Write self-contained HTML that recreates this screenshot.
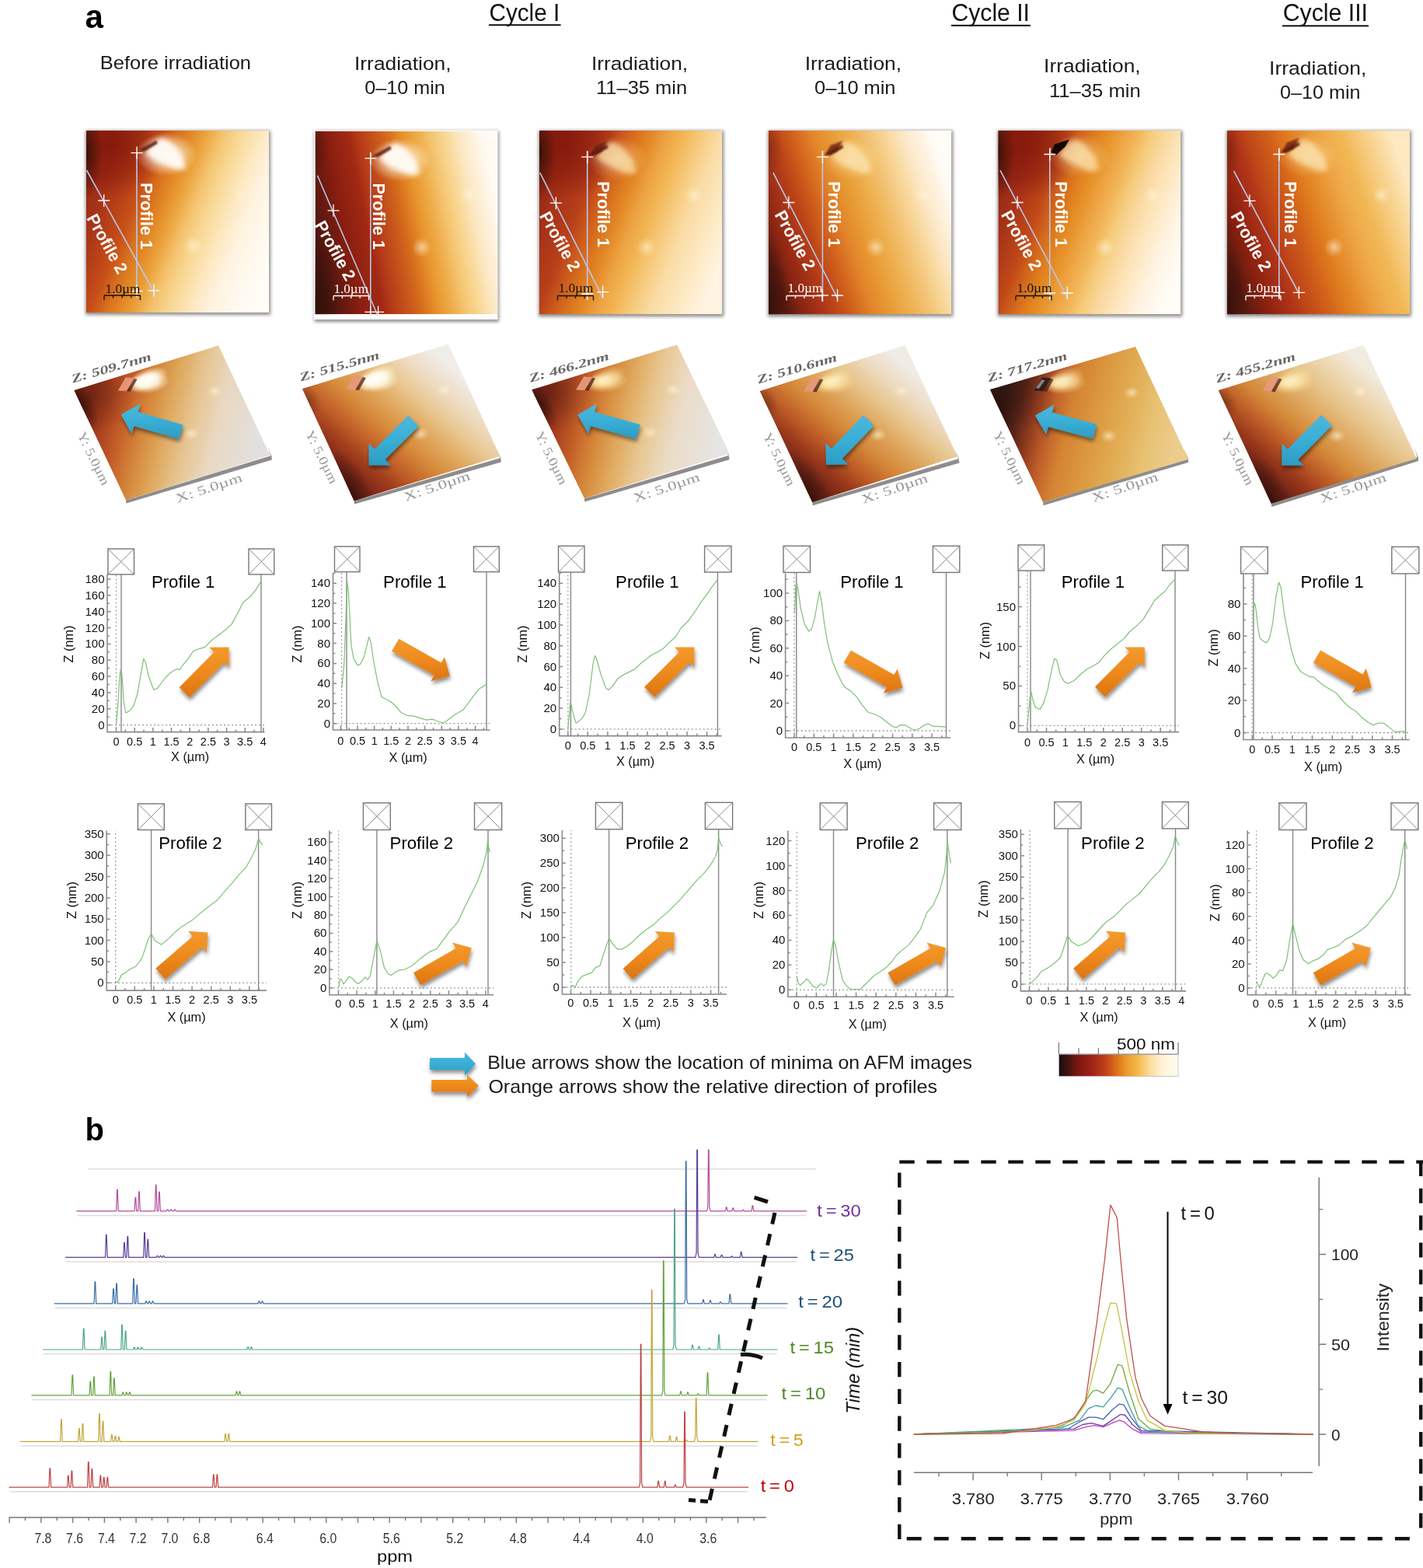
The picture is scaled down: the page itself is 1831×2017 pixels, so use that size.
<!DOCTYPE html>
<html><head><meta charset="utf-8"><title>AFM and NMR figure</title>
<style>html,body{margin:0;padding:0;background:#fff;} svg{display:block;}</style></head>
<body><svg width="1831" height="2017" viewBox="0 0 1831 2017">
<defs><filter id="shadow" x="-10%" y="-10%" width="120%" height="120%">
<feGaussianBlur stdDeviation="2.2"/></filter>
<filter id="blur1" x="-50%" y="-50%" width="200%" height="200%"><feGaussianBlur stdDeviation="1.2"/></filter>
<filter id="blur3" x="-50%" y="-50%" width="200%" height="200%"><feGaussianBlur stdDeviation="3"/></filter>
<filter id="blur6" x="-50%" y="-50%" width="200%" height="200%"><feGaussianBlur stdDeviation="6"/></filter>
<radialGradient id="spotW"><stop offset="0" stop-color="#ffffff" stop-opacity="1"/><stop offset="0.45" stop-color="#fffbee" stop-opacity="0.85"/><stop offset="1" stop-color="#fff0c8" stop-opacity="0"/></radialGradient>
<radialGradient id="spotY"><stop offset="0" stop-color="#fff4d0" stop-opacity="0.95"/><stop offset="0.5" stop-color="#fce6a8" stop-opacity="0.6"/><stop offset="1" stop-color="#f8d890" stop-opacity="0"/></radialGradient>
<radialGradient id="spotF"><stop offset="0" stop-color="#fff8e0" stop-opacity="0.6"/><stop offset="0.4" stop-color="#fff4d8" stop-opacity="0.35"/><stop offset="1" stop-color="#fff0c0" stop-opacity="0"/></radialGradient>
<radialGradient id="darkTL"><stop offset="0" stop-color="#2a0e08" stop-opacity="0.85"/><stop offset="1" stop-color="#3a1008" stop-opacity="0"/></radialGradient>
<radialGradient id="darkCr"><stop offset="0" stop-color="#7a1008" stop-opacity="0.9"/><stop offset="0.6" stop-color="#80140a" stop-opacity="0.55"/><stop offset="1" stop-color="#8a180c" stop-opacity="0"/></radialGradient>
<filter id="ashadow" x="-30%" y="-30%" width="160%" height="160%">
<feGaussianBlur in="SourceAlpha" stdDeviation="2.5"/><feOffset dx="1" dy="4" result="o"/>
<feComponentTransfer><feFuncA type="linear" slope="0.45"/></feComponentTransfer>
<feMerge><feMergeNode/><feMergeNode in="SourceGraphic"/></feMerge></filter>
<linearGradient id="gOr" x1="0" y1="0" x2="0" y2="1"><stop offset="0" stop-color="#f39a2e"/><stop offset="0.5" stop-color="#ee8a1c"/><stop offset="1" stop-color="#dc7414"/></linearGradient>
<linearGradient id="gBl" x1="0" y1="0" x2="0" y2="1"><stop offset="0" stop-color="#4cb8dc"/><stop offset="0.5" stop-color="#3aaed6"/><stop offset="1" stop-color="#2c9cc4"/></linearGradient>
<linearGradient id="gCbar" x1="0" y1="0" x2="1" y2="0">
<stop offset="0" stop-color="#161010"/><stop offset="0.07" stop-color="#3c1410"/><stop offset="0.16" stop-color="#7e1610"/>
<stop offset="0.28" stop-color="#a02418"/><stop offset="0.4" stop-color="#c4441c"/><stop offset="0.5" stop-color="#e07818"/>
<stop offset="0.56" stop-color="#eb9828"/><stop offset="0.66" stop-color="#f4b848"/><stop offset="0.76" stop-color="#fcd99a"/>
<stop offset="0.86" stop-color="#fff1d4"/><stop offset="1" stop-color="#fffcf4"/></linearGradient><linearGradient id="sg_f0" x1="0" y1="0.3" x2="1" y2="0.7"><stop offset="0" stop-color="#982a14"/><stop offset="0.1" stop-color="#a83418"/><stop offset="0.2" stop-color="#bc4418"/><stop offset="0.26" stop-color="#c85018"/><stop offset="0.33" stop-color="#d8701e"/><stop offset="0.4" stop-color="#e28a26"/><stop offset="0.47" stop-color="#eca43e"/><stop offset="0.55" stop-color="#f4c470"/><stop offset="0.63" stop-color="#f9d894"/><stop offset="0.72" stop-color="#fce6bc"/><stop offset="0.82" stop-color="#fff3e0"/><stop offset="1" stop-color="#fffcf6"/></linearGradient><linearGradient id="sg_f1" x1="0" y1="0.6" x2="1" y2="0.4"><stop offset="0" stop-color="#4a1610"/><stop offset="0.09" stop-color="#6a1a10"/><stop offset="0.17" stop-color="#8a1e10"/><stop offset="0.29" stop-color="#a22a14"/><stop offset="0.33" stop-color="#b43818"/><stop offset="0.44" stop-color="#ca5a1c"/><stop offset="0.5" stop-color="#d8701c"/><stop offset="0.58" stop-color="#e8962e"/><stop offset="0.64" stop-color="#eea844"/><stop offset="0.72" stop-color="#f4c470"/><stop offset="0.78" stop-color="#f8d48c"/><stop offset="0.87" stop-color="#fce8c4"/><stop offset="1" stop-color="#fffbf4"/></linearGradient><linearGradient id="sg_f2" x1="0" y1="0.3" x2="1" y2="0.7"><stop offset="0" stop-color="#962814"/><stop offset="0.1" stop-color="#a63218"/><stop offset="0.23" stop-color="#b8401a"/><stop offset="0.3" stop-color="#cc5a1c"/><stop offset="0.37" stop-color="#da741e"/><stop offset="0.44" stop-color="#e48a28"/><stop offset="0.5" stop-color="#eca040"/><stop offset="0.58" stop-color="#f2b452"/><stop offset="0.66" stop-color="#f6c878"/><stop offset="0.76" stop-color="#f9dca4"/><stop offset="0.88" stop-color="#fde8c2"/><stop offset="1" stop-color="#fff4e2"/></linearGradient><linearGradient id="sg_f3" x1="0" y1="0.675" x2="1" y2="0.325"><stop offset="0" stop-color="#5a1a10"/><stop offset="0.07" stop-color="#8a2412"/><stop offset="0.16" stop-color="#a83418"/><stop offset="0.23" stop-color="#bc4418"/><stop offset="0.32" stop-color="#d2621c"/><stop offset="0.41" stop-color="#e2842a"/><stop offset="0.5" stop-color="#e89a34"/><stop offset="0.6" stop-color="#eeb050"/><stop offset="0.68" stop-color="#f2c070"/><stop offset="0.77" stop-color="#f8d698"/><stop offset="0.86" stop-color="#fce8c8"/><stop offset="1" stop-color="#fffcf8"/></linearGradient><linearGradient id="sg_f4" x1="0" y1="0.3" x2="1" y2="0.7"><stop offset="0" stop-color="#962814"/><stop offset="0.1" stop-color="#a63218"/><stop offset="0.23" stop-color="#c04818"/><stop offset="0.3" stop-color="#d2661c"/><stop offset="0.37" stop-color="#e0801e"/><stop offset="0.44" stop-color="#e8942c"/><stop offset="0.5" stop-color="#eea444"/><stop offset="0.57" stop-color="#f2b85c"/><stop offset="0.63" stop-color="#f6cc7c"/><stop offset="0.7" stop-color="#fad8a0"/><stop offset="0.77" stop-color="#fce4b8"/><stop offset="0.9" stop-color="#fff4e4"/><stop offset="1" stop-color="#fffbf5"/></linearGradient><linearGradient id="sg_f5" x1="0" y1="0.675" x2="1" y2="0.325"><stop offset="0" stop-color="#5a1a10"/><stop offset="0.1" stop-color="#8a2010"/><stop offset="0.23" stop-color="#b03418"/><stop offset="0.3" stop-color="#c04818"/><stop offset="0.37" stop-color="#cc581a"/><stop offset="0.44" stop-color="#d86c1c"/><stop offset="0.5" stop-color="#e07e1e"/><stop offset="0.57" stop-color="#e69030"/><stop offset="0.63" stop-color="#eca040"/><stop offset="0.7" stop-color="#f0ae4c"/><stop offset="0.77" stop-color="#f2b858"/><stop offset="0.84" stop-color="#f6c878"/><stop offset="0.9" stop-color="#f8d490"/><stop offset="1" stop-color="#fde8c0"/></linearGradient><clipPath id="c3d0"><rect x="0" y="0" width="235.0" height="235.0"/></clipPath><linearGradient id="sg_d0" x1="0" y1="0.2" x2="1" y2="0.8"><stop offset="0" stop-color="#8a2c18"/><stop offset="0.1" stop-color="#a63e1e"/><stop offset="0.22" stop-color="#c45e28"/><stop offset="0.34" stop-color="#d4863a"/><stop offset="0.46" stop-color="#dea65a"/><stop offset="0.6" stop-color="#e6c490"/><stop offset="0.76" stop-color="#e9d8c2"/><stop offset="1" stop-color="#e2e0de"/></linearGradient><clipPath id="c3d1"><rect x="0" y="0" width="235.0" height="235.0"/></clipPath><linearGradient id="sg_d1" x1="0" y1="0.7" x2="1" y2="0.3"><stop offset="0" stop-color="#7a2618"/><stop offset="0.12" stop-color="#9c3a1c"/><stop offset="0.25" stop-color="#c05e28"/><stop offset="0.4" stop-color="#d6883a"/><stop offset="0.55" stop-color="#e0a85e"/><stop offset="0.7" stop-color="#e8c892"/><stop offset="0.85" stop-color="#eedcc4"/><stop offset="1" stop-color="#f0ece8"/></linearGradient><clipPath id="c3d2"><rect x="0" y="0" width="235.0" height="235.0"/></clipPath><linearGradient id="sg_d2" x1="0" y1="0.2" x2="1" y2="0.8"><stop offset="0" stop-color="#822a18"/><stop offset="0.1" stop-color="#a43e1e"/><stop offset="0.22" stop-color="#c66228"/><stop offset="0.34" stop-color="#d68a3c"/><stop offset="0.46" stop-color="#e0aa60"/><stop offset="0.6" stop-color="#e8c894"/><stop offset="0.76" stop-color="#ebdcc8"/><stop offset="1" stop-color="#e6e4e2"/></linearGradient><clipPath id="c3d3"><rect x="0" y="0" width="235.0" height="235.0"/></clipPath><linearGradient id="sg_d3" x1="0" y1="0.7" x2="1" y2="0.3"><stop offset="0" stop-color="#6e2418"/><stop offset="0.12" stop-color="#96361a"/><stop offset="0.25" stop-color="#bc5a26"/><stop offset="0.4" stop-color="#d48638"/><stop offset="0.55" stop-color="#dea45a"/><stop offset="0.7" stop-color="#e6c48c"/><stop offset="0.85" stop-color="#eddac0"/><stop offset="1" stop-color="#f0ebe4"/></linearGradient><clipPath id="c3d4"><rect x="0" y="0" width="235.0" height="235.0"/></clipPath><linearGradient id="sg_d4" x1="0" y1="0.2" x2="1" y2="0.8"><stop offset="0" stop-color="#2e1a16"/><stop offset="0.1" stop-color="#5a2418"/><stop offset="0.2" stop-color="#9a4020"/><stop offset="0.28" stop-color="#c0602a"/><stop offset="0.38" stop-color="#d48232"/><stop offset="0.54" stop-color="#dc9a40"/><stop offset="0.7" stop-color="#e2ae56"/><stop offset="0.85" stop-color="#e8c274"/><stop offset="1" stop-color="#eccc8c"/></linearGradient><clipPath id="c3d5"><rect x="0" y="0" width="235.0" height="235.0"/></clipPath><linearGradient id="sg_d5" x1="0" y1="0.7" x2="1" y2="0.3"><stop offset="0" stop-color="#6e2418"/><stop offset="0.12" stop-color="#96361a"/><stop offset="0.25" stop-color="#bc5a26"/><stop offset="0.4" stop-color="#d48a3a"/><stop offset="0.55" stop-color="#dea860"/><stop offset="0.7" stop-color="#e6c48a"/><stop offset="0.85" stop-color="#eed8b4"/><stop offset="1" stop-color="#f2ebe0"/></linearGradient></defs>
<rect width="1831" height="2017" fill="#fff"/>
<text x="109.5" y="35.5" font-size="42" fill="#000" font-family="'Liberation Sans', Arial, sans-serif" font-weight="bold" >a</text>
<text x="629.5" y="26.5" font-size="31" fill="#111" font-family="'Liberation Sans', Arial, sans-serif" textLength="90.7" lengthAdjust="spacingAndGlyphs" >Cycle I</text>
<rect x="629" y="31.200000000000003" width="92.6" height="2" fill="#111"/>
<text x="1224.5" y="26.5" font-size="31" fill="#111" font-family="'Liberation Sans', Arial, sans-serif" textLength="100.5" lengthAdjust="spacingAndGlyphs" >Cycle II</text>
<rect x="1224" y="31.799999999999997" width="102.0" height="2" fill="#111"/>
<text x="1650.7" y="27.3" font-size="31" fill="#111" font-family="'Liberation Sans', Arial, sans-serif" textLength="109.3" lengthAdjust="spacingAndGlyphs" >Cycle III</text>
<rect x="1650" y="32.3" width="111.0" height="2" fill="#111"/>
<text x="128.8" y="88.8" font-size="24" fill="#1a1a1a" font-family="'Liberation Sans', Arial, sans-serif" textLength="194.2" lengthAdjust="spacingAndGlyphs" >Before irradiation</text>
<text x="456.0" y="89.6" font-size="24.5" fill="#1a1a1a" font-family="'Liberation Sans', Arial, sans-serif" textLength="124.6" lengthAdjust="spacingAndGlyphs" >Irradiation,</text>
<text x="469.2" y="120.8" font-size="24.5" fill="#1a1a1a" font-family="'Liberation Sans', Arial, sans-serif" textLength="103.6" lengthAdjust="spacingAndGlyphs" >0–10 min</text>
<text x="760.9" y="89.6" font-size="24.5" fill="#1a1a1a" font-family="'Liberation Sans', Arial, sans-serif" textLength="124.3" lengthAdjust="spacingAndGlyphs" >Irradiation,</text>
<text x="767.0" y="120.8" font-size="24.5" fill="#1a1a1a" font-family="'Liberation Sans', Arial, sans-serif" textLength="117.2" lengthAdjust="spacingAndGlyphs" >11–35 min</text>
<text x="1035.7" y="89.6" font-size="24.5" fill="#1a1a1a" font-family="'Liberation Sans', Arial, sans-serif" textLength="124.3" lengthAdjust="spacingAndGlyphs" >Irradiation,</text>
<text x="1048.0" y="120.8" font-size="24.5" fill="#1a1a1a" font-family="'Liberation Sans', Arial, sans-serif" textLength="104.5" lengthAdjust="spacingAndGlyphs" >0–10 min</text>
<text x="1343.1" y="92.9" font-size="24.5" fill="#1a1a1a" font-family="'Liberation Sans', Arial, sans-serif" textLength="124.6" lengthAdjust="spacingAndGlyphs" >Irradiation,</text>
<text x="1350.0" y="125.1" font-size="24.5" fill="#1a1a1a" font-family="'Liberation Sans', Arial, sans-serif" textLength="117.8" lengthAdjust="spacingAndGlyphs" >11–35 min</text>
<text x="1633.1" y="95.6" font-size="24.5" fill="#1a1a1a" font-family="'Liberation Sans', Arial, sans-serif" textLength="125.2" lengthAdjust="spacingAndGlyphs" >Irradiation,</text>
<text x="1647.0" y="127.0" font-size="24.5" fill="#1a1a1a" font-family="'Liberation Sans', Arial, sans-serif" textLength="103.5" lengthAdjust="spacingAndGlyphs" >0–10 min</text>
<rect x="110" y="168" width="238" height="237" fill="#000" opacity="0.45" filter="url(#shadow)"/>
<svg x="111" y="168" width="235.0" height="234.0" overflow="hidden">
<rect x="0" y="0" width="235" height="234" fill="url(#sg_f0)"/>
<ellipse cx="32.9" cy="18.7" rx="70.5" ry="70.2" fill="url(#darkCr)" opacity="0.75"/>
<ellipse cx="0" cy="28.1" rx="21.1" ry="60.8" fill="url(#darkTL)"/>
<ellipse cx="103" cy="30.599999999999994" rx="40" ry="28" fill="url(#spotW)" opacity="0.75"/>
<polygon points="75.7,29.5 87.3,14.1 97.6,9.0 109.0,15.4 123.0,32.0 128.4,48.8 115.5,50.0 90.0,38.5" fill="#fffcf4" filter="url(#blur3)" opacity="0.95"/>
<path d="M67,25.599999999999994 L90,12.599999999999994 L92,16.599999999999994 L75,26.599999999999994 Z" fill="#5a1408" opacity="0.85" filter="url(#blur1)"/>
<circle cx="137.5" cy="148.6" r="13" fill="url(#spotF)"/>
<circle cx="198.6" cy="81.9" r="12" fill="url(#spotF)"/>
</svg>
<line x1="176" y1="196.6" x2="176" y2="374.5" stroke="#b9c6ea" stroke-width="1.6"/>
<line x1="111.5" y1="219" x2="200.5" y2="380" stroke="#b9c6ea" stroke-width="1.6"/>
<path d="M168.5,196.6H183.5M176.0,188.6V204.6" stroke="#fff" stroke-width="1.3" fill="none"/>
<path d="M126.2,258.0H141.2M133.7,250.0V266.0" stroke="#fff" stroke-width="1.3" fill="none"/>
<path d="M190.5,373.8H205.5M198.0,365.8V381.8" stroke="#fff" stroke-width="1.3" fill="none"/>
<path d="M168.5,374.5H183.5M176.0,366.5V382.5" stroke="#fff" stroke-width="1.3" fill="none"/>
<text x="180.8" y="235.0" font-size="22" fill="#fff" font-family="'Liberation Sans', Arial, sans-serif" font-weight="bold" textLength="86.0" lengthAdjust="spacingAndGlyphs" transform="rotate(90 180.8 235.0)" >Profile 1</text>
<text x="111.0" y="280.5" font-size="22" fill="#fff" font-family="'Liberation Sans', Arial, sans-serif" font-weight="bold" textLength="84.0" lengthAdjust="spacingAndGlyphs" transform="rotate(61 111.0 280.5)" >Profile 2</text>
<text x="135.5" y="376.5" font-size="16" fill="#111" font-family="'Liberation Serif', 'Times New Roman', serif" textLength="45.0" lengthAdjust="spacingAndGlyphs" >1.0µm</text>
<path d="M134,380H180.5M134,380v6M180.5,380v6M145.6,380v3.5M157.2,380v3.5M168.9,380v3.5" stroke="#111" stroke-width="1.3" fill="none"/>
<rect x="404.5" y="168.6" width="237.5" height="245.4" fill="#000" opacity="0.45" filter="url(#shadow)"/>
<rect x="404.0" y="167.6" width="236.5" height="243.4" fill="#fff"/>
<svg x="405.5" y="168.6" width="234.5" height="235.7" overflow="hidden">
<rect x="0" y="0" width="234.5" height="235.70000000000002" fill="url(#sg_f1)"/>
<ellipse cx="0" cy="223.9" rx="32.8" ry="99.0" fill="url(#darkTL)"/>
<ellipse cx="0" cy="23.6" rx="18.8" ry="37.7" fill="url(#darkTL)" opacity="0.40"/>
<ellipse cx="109.30000000000001" cy="37.099999999999994" rx="40" ry="28" fill="url(#spotW)" opacity="0.75"/>
<polygon points="82.0,36.0 93.6,20.6 103.9,15.5 115.3,21.9 129.3,38.5 134.7,55.3 121.8,56.5 96.3,45.0" fill="#fffcf4" filter="url(#blur3)" opacity="0.95"/>
<path d="M73.30000000000001,32.099999999999994 L96.30000000000001,19.099999999999994 L98.30000000000001,23.099999999999994 L81.30000000000001,33.099999999999994 Z" fill="#5a1408" opacity="0.85" filter="url(#blur1)"/>
<circle cx="137.2" cy="149.7" r="13" fill="url(#spotF)"/>
<circle cx="198.2" cy="82.5" r="12" fill="url(#spotF)"/>
</svg>
<line x1="476.8" y1="197" x2="476.8" y2="408.8" stroke="#b9c6ea" stroke-width="1.6"/>
<line x1="408.4" y1="225.8" x2="486.6" y2="407.3" stroke="#b9c6ea" stroke-width="1.6"/>
<path d="M469.3,203.7H484.3M476.8,195.7V211.7" stroke="#fff" stroke-width="1.3" fill="none"/>
<path d="M421.5,270.8H436.5M429.0,262.8V278.8" stroke="#fff" stroke-width="1.3" fill="none"/>
<path d="M479.1,401.4H494.1M486.6,393.4V409.4" stroke="#fff" stroke-width="1.3" fill="none"/>
<path d="M469.3,401.4H484.3M476.8,393.4V409.4" stroke="#fff" stroke-width="1.3" fill="none"/>
<text x="480.0" y="235.4" font-size="22" fill="#fff" font-family="'Liberation Sans', Arial, sans-serif" font-weight="bold" textLength="85.6" lengthAdjust="spacingAndGlyphs" transform="rotate(90 480.0 235.4)" >Profile 1</text>
<text x="404.5" y="289.3" font-size="22" fill="#fff" font-family="'Liberation Sans', Arial, sans-serif" font-weight="bold" textLength="84.0" lengthAdjust="spacingAndGlyphs" transform="rotate(61 404.5 289.3)" >Profile 2</text>
<text x="429.5" y="377.0" font-size="16" fill="#fff" font-family="'Liberation Serif', 'Times New Roman', serif" textLength="44.5" lengthAdjust="spacingAndGlyphs" >1.0µm</text>
<path d="M429,380.5H474.6M429,380.5v6M474.6,380.5v6M440.4,380.5v3.5M451.8,380.5v3.5M463.2,380.5v3.5" stroke="#fff" stroke-width="1.3" fill="none"/>
<rect x="693" y="168" width="238.29999999999995" height="239.3" fill="#000" opacity="0.45" filter="url(#shadow)"/>
<svg x="694" y="168" width="235.3" height="236.3" overflow="hidden">
<rect x="0" y="0" width="235.29999999999995" height="236.3" fill="url(#sg_f2)"/>
<ellipse cx="32.9" cy="18.9" rx="70.6" ry="70.9" fill="url(#darkCr)" opacity="0.75"/>
<ellipse cx="0" cy="28.4" rx="21.2" ry="61.4" fill="url(#darkTL)"/>
<ellipse cx="99.70000000000005" cy="35.900000000000006" rx="40" ry="28" fill="url(#spotY)" opacity="0.5"/>
<polygon points="72.4,34.8 84.0,19.4 94.3,14.3 105.7,20.7 119.7,37.3 125.1,54.1 112.2,55.3 86.7,43.8" fill="#fde6b4" filter="url(#blur3)" opacity="0.7"/>
<path d="M64.70000000000005,31.900000000000006 L71.70000000000005,18.900000000000006 L87.70000000000005,12.900000000000006 L79.70000000000005,26.900000000000006 Z" fill="#6a1a0c" opacity="0.8" filter="url(#blur1)"/>
<path d="M63.700000000000045,30.900000000000006 L86.70000000000005,17.900000000000006 L88.70000000000005,21.900000000000006 L71.70000000000005,31.900000000000006 Z" fill="#5a1408" opacity="0.85" filter="url(#blur1)"/>
<circle cx="137.7" cy="150.1" r="13" fill="url(#spotF)"/>
<circle cx="198.8" cy="82.7" r="12" fill="url(#spotF)"/>
</svg>
<line x1="755.7" y1="194.8" x2="755.7" y2="383" stroke="#b9c6ea" stroke-width="1.6"/>
<line x1="694.8" y1="222.1" x2="775.6" y2="383" stroke="#b9c6ea" stroke-width="1.6"/>
<path d="M748.2,201.9H763.2M755.7,193.9V209.9" stroke="#fff" stroke-width="1.3" fill="none"/>
<path d="M707.9,261.2H722.9M715.4,253.2V269.2" stroke="#fff" stroke-width="1.3" fill="none"/>
<path d="M768.1,375.6H783.1M775.6,367.6V383.6" stroke="#fff" stroke-width="1.3" fill="none"/>
<path d="M748.2,378.0H763.2M755.7,370.0V386.0" stroke="#fff" stroke-width="1.3" fill="none"/>
<text x="768.5" y="233.2" font-size="22" fill="#fff" font-family="'Liberation Sans', Arial, sans-serif" font-weight="bold" textLength="84.8" lengthAdjust="spacingAndGlyphs" transform="rotate(90 768.5 233.2)" >Profile 1</text>
<text x="693.8" y="277.5" font-size="22" fill="#fff" font-family="'Liberation Sans', Arial, sans-serif" font-weight="bold" textLength="84.0" lengthAdjust="spacingAndGlyphs" transform="rotate(61 693.8 277.5)" >Profile 2</text>
<text x="718.5" y="376.0" font-size="16" fill="#111" font-family="'Liberation Serif', 'Times New Roman', serif" textLength="45.0" lengthAdjust="spacingAndGlyphs" >1.0µm</text>
<path d="M717.5,380.5H763.5M717.5,380.5v6M763.5,380.5v6M729.0,380.5v3.5M740.5,380.5v3.5M752.0,380.5v3.5" stroke="#111" stroke-width="1.3" fill="none"/>
<rect x="988" y="168" width="238.29999999999995" height="239.3" fill="#000" opacity="0.45" filter="url(#shadow)"/>
<svg x="989" y="168" width="235.3" height="236.3" overflow="hidden">
<rect x="0" y="0" width="235.29999999999995" height="236.3" fill="url(#sg_f3)"/>
<ellipse cx="0" cy="224.5" rx="26.4" ry="79.4" fill="url(#darkTL)"/>
<ellipse cx="0" cy="23.6" rx="18.8" ry="37.8" fill="url(#darkTL)" opacity="0.32"/>
<ellipse cx="107.40000000000009" cy="35.900000000000006" rx="40" ry="28" fill="url(#spotY)" opacity="0.5"/>
<polygon points="80.1,34.8 91.7,19.4 102.0,14.3 113.4,20.7 127.4,37.3 132.8,54.1 119.9,55.3 94.4,43.8" fill="#fde6b4" filter="url(#blur3)" opacity="0.7"/>
<path d="M72.40000000000009,31.900000000000006 L79.40000000000009,18.900000000000006 L95.40000000000009,12.900000000000006 L87.40000000000009,26.900000000000006 Z" fill="#6a1a0c" opacity="0.8" filter="url(#blur1)"/>
<path d="M71.40000000000009,30.900000000000006 L94.40000000000009,17.900000000000006 L96.40000000000009,21.900000000000006 L79.40000000000009,31.900000000000006 Z" fill="#5a1408" opacity="0.85" filter="url(#blur1)"/>
<circle cx="137.7" cy="150.1" r="13" fill="url(#spotF)"/>
<circle cx="198.8" cy="82.7" r="12" fill="url(#spotF)"/>
</svg>
<line x1="1058.4" y1="194" x2="1058.4" y2="388" stroke="#b9c6ea" stroke-width="1.6"/>
<line x1="994.9" y1="222.1" x2="1078.3" y2="385.2" stroke="#b9c6ea" stroke-width="1.6"/>
<path d="M1050.9,201.9H1065.9M1058.4,193.9V209.9" stroke="#fff" stroke-width="1.3" fill="none"/>
<path d="M1007.3,260.5H1022.3M1014.8,252.5V268.5" stroke="#fff" stroke-width="1.3" fill="none"/>
<path d="M1050.9,380.0H1065.9M1058.4,372.0V388.0" stroke="#fff" stroke-width="1.3" fill="none"/>
<path d="M1070.0,380.0H1085.0M1077.5,372.0V388.0" stroke="#fff" stroke-width="1.3" fill="none"/>
<text x="1065.7" y="233.2" font-size="22" fill="#fff" font-family="'Liberation Sans', Arial, sans-serif" font-weight="bold" textLength="84.8" lengthAdjust="spacingAndGlyphs" transform="rotate(90 1065.7 233.2)" >Profile 1</text>
<text x="996.2" y="276.1" font-size="22" fill="#fff" font-family="'Liberation Sans', Arial, sans-serif" font-weight="bold" textLength="84.0" lengthAdjust="spacingAndGlyphs" transform="rotate(61 996.2 276.1)" >Profile 2</text>
<text x="1013.5" y="376.0" font-size="16" fill="#fff" font-family="'Liberation Serif', 'Times New Roman', serif" textLength="45.0" lengthAdjust="spacingAndGlyphs" >1.0µm</text>
<path d="M1012,380.5H1058M1012,380.5v6M1058,380.5v6M1023.5,380.5v3.5M1035.0,380.5v3.5M1046.5,380.5v3.5" stroke="#fff" stroke-width="1.3" fill="none"/>
<rect x="1283.5" y="168" width="237.79999999999995" height="239.3" fill="#000" opacity="0.45" filter="url(#shadow)"/>
<svg x="1284.5" y="168" width="234.8" height="236.3" overflow="hidden">
<rect x="0" y="0" width="234.79999999999995" height="236.3" fill="url(#sg_f4)"/>
<ellipse cx="32.9" cy="18.9" rx="70.4" ry="70.9" fill="url(#darkCr)" opacity="0.75"/>
<ellipse cx="0" cy="28.4" rx="21.1" ry="61.4" fill="url(#darkTL)"/>
<ellipse cx="104.29999999999995" cy="32.5" rx="40" ry="28" fill="url(#spotY)" opacity="0.5"/>
<polygon points="77.0,31.4 88.6,16.0 98.9,10.9 110.3,17.3 124.3,33.9 129.7,50.7 116.8,51.9 91.3,40.4" fill="#fde6b4" filter="url(#blur3)" opacity="0.7"/>
<path d="M68.29999999999995,27.5 L72.29999999999995,17.5 L91.29999999999995,11.5 L86.29999999999995,20.5 L74.29999999999995,31.5 Z" fill="#150806"/>
<circle cx="137.4" cy="150.1" r="13" fill="url(#spotF)"/>
<circle cx="198.4" cy="82.7" r="12" fill="url(#spotF)"/>
</svg>
<line x1="1350.8" y1="190.4" x2="1350.8" y2="386.6" stroke="#b9c6ea" stroke-width="1.6"/>
<line x1="1287" y1="219.2" x2="1373.3" y2="383" stroke="#b9c6ea" stroke-width="1.6"/>
<path d="M1343.3,198.5H1358.3M1350.8,190.5V206.5" stroke="#fff" stroke-width="1.3" fill="none"/>
<path d="M1301.6,260.5H1316.6M1309.1,252.5V268.5" stroke="#fff" stroke-width="1.3" fill="none"/>
<path d="M1365.8,377.0H1380.8M1373.3,369.0V385.0" stroke="#fff" stroke-width="1.3" fill="none"/>
<path d="M1343.3,377.0H1358.3M1350.8,369.0V385.0" stroke="#fff" stroke-width="1.3" fill="none"/>
<text x="1357.8" y="233.2" font-size="22" fill="#fff" font-family="'Liberation Sans', Arial, sans-serif" font-weight="bold" textLength="84.8" lengthAdjust="spacingAndGlyphs" transform="rotate(90 1357.8 233.2)" >Profile 1</text>
<text x="1287.5" y="276.1" font-size="22" fill="#fff" font-family="'Liberation Sans', Arial, sans-serif" font-weight="bold" textLength="84.0" lengthAdjust="spacingAndGlyphs" transform="rotate(61 1287.5 276.1)" >Profile 2</text>
<text x="1308.5" y="376.0" font-size="16" fill="#111" font-family="'Liberation Serif', 'Times New Roman', serif" textLength="45.0" lengthAdjust="spacingAndGlyphs" >1.0µm</text>
<path d="M1307,380.5H1353M1307,380.5v6M1353,380.5v6M1318.5,380.5v3.5M1330.0,380.5v3.5M1341.5,380.5v3.5" stroke="#111" stroke-width="1.3" fill="none"/>
<rect x="1578" y="168" width="238" height="239.3" fill="#000" opacity="0.45" filter="url(#shadow)"/>
<svg x="1579" y="168" width="235.0" height="236.3" overflow="hidden">
<rect x="0" y="0" width="235" height="236.3" fill="url(#sg_f5)"/>
<ellipse cx="0" cy="224.5" rx="26.3" ry="79.4" fill="url(#darkTL)"/>
<ellipse cx="0" cy="23.6" rx="18.8" ry="37.8" fill="url(#darkTL)" opacity="0.32"/>
<ellipse cx="104.79999999999995" cy="32.5" rx="40" ry="28" fill="url(#spotY)" opacity="0.5"/>
<polygon points="77.5,31.4 89.1,16.0 99.4,10.9 110.8,17.3 124.8,33.9 130.2,50.7 117.3,51.9 91.8,40.4" fill="#fde6b4" filter="url(#blur3)" opacity="0.7"/>
<path d="M69.79999999999995,28.5 L76.79999999999995,15.5 L92.79999999999995,9.5 L84.79999999999995,23.5 Z" fill="#6a1a0c" opacity="0.8" filter="url(#blur1)"/>
<path d="M68.79999999999995,27.5 L91.79999999999995,14.5 L93.79999999999995,18.5 L76.79999999999995,28.5 Z" fill="#5a1408" opacity="0.85" filter="url(#blur1)"/>
<circle cx="137.5" cy="150.1" r="13" fill="url(#spotF)"/>
<circle cx="198.6" cy="82.7" r="12" fill="url(#spotF)"/>
</svg>
<line x1="1645.8" y1="191" x2="1645.8" y2="385" stroke="#b9c6ea" stroke-width="1.6"/>
<line x1="1587.6" y1="220" x2="1671" y2="377" stroke="#b9c6ea" stroke-width="1.6"/>
<path d="M1638.3,198.5H1653.3M1645.8,190.5V206.5" stroke="#fff" stroke-width="1.3" fill="none"/>
<path d="M1600.4,258.3H1615.4M1607.9,250.3V266.3" stroke="#fff" stroke-width="1.3" fill="none"/>
<path d="M1663.9,376.3H1678.9M1671.4,368.3V384.3" stroke="#fff" stroke-width="1.3" fill="none"/>
<path d="M1638.3,376.3H1653.3M1645.8,368.3V384.3" stroke="#fff" stroke-width="1.3" fill="none"/>
<text x="1652.5" y="233.2" font-size="22" fill="#fff" font-family="'Liberation Sans', Arial, sans-serif" font-weight="bold" textLength="84.8" lengthAdjust="spacingAndGlyphs" transform="rotate(90 1652.5 233.2)" >Profile 1</text>
<text x="1582.9" y="277.5" font-size="22" fill="#fff" font-family="'Liberation Sans', Arial, sans-serif" font-weight="bold" textLength="84.0" lengthAdjust="spacingAndGlyphs" transform="rotate(61 1582.9 277.5)" >Profile 2</text>
<text x="1603.5" y="376.0" font-size="16" fill="#fff" font-family="'Liberation Serif', 'Times New Roman', serif" textLength="45.0" lengthAdjust="spacingAndGlyphs" >1.0µm</text>
<path d="M1603,380.5H1648M1603,380.5v6M1648,380.5v6M1614.2,380.5v3.5M1625.5,380.5v3.5M1636.8,380.5v3.5" stroke="#fff" stroke-width="1.3" fill="none"/>
<polygon points="161.9,643.5 349.3,586.1 349.8,591.6 162.4,647.5" fill="#8e8c8c"/>
<polygon points="349.3,586.1 344.3,574.1 349.8,591.1" fill="#a8a6a4"/>
<g transform="matrix(0.79106 -0.24553 0.28340 0.60213 95.3 502)"><g clip-path="url(#c3d0)">
<rect x="0" y="0" width="235.0" height="235.0" fill="url(#sg_d0)"/>
<ellipse cx="23.5" cy="23.5" rx="65.8" ry="70.5" fill="url(#darkTL)" opacity="0.35"/>
<ellipse cx="0" cy="28.2" rx="21.1" ry="61.1" fill="url(#darkTL)"/>
<ellipse cx="110" cy="29" rx="34" ry="21" fill="url(#spotW)" transform="rotate(12 110 29)" opacity="0.9"/>
<ellipse cx="102" cy="25" rx="19" ry="13" fill="url(#spotW)" transform="rotate(20 104 26)"/>
<circle cx="137.5" cy="149.2" r="13" fill="url(#spotF)"/>
<circle cx="198.6" cy="82.2" r="12" fill="url(#spotF)"/>
<ellipse cx="112" cy="22" rx="34" ry="20" fill="url(#spotW)" transform="rotate(-10 112 22)" opacity="1"/>
<path d="M74,32 L92,12 L97,16 L79,35 Z" fill="#4a2014" opacity="0.75"/>
<path d="M62,26 L82,6 L94,12 L74,32 Z" fill="#e8987a" opacity="0.95"/>
</g></g>
<text x="93.8" y="492.5" font-size="15.5" fill="#666" font-family="'Liberation Serif', 'Times New Roman', serif" font-weight="bold" font-style="italic" textLength="106.0" lengthAdjust="spacingAndGlyphs" transform="rotate(-16 93.8 492.5)" >Z: 509.7nm</text>
<text x="99.3" y="559.0" font-size="16.5" fill="#999" font-family="'Liberation Serif', 'Times New Roman', serif" textLength="74.0" lengthAdjust="spacingAndGlyphs" transform="rotate(64 99.3 559.0)" >Y: 5.0µm</text>
<text x="228.3" y="647.0" font-size="16.5" fill="#999" font-family="'Liberation Serif', 'Times New Roman', serif" textLength="89.0" lengthAdjust="spacingAndGlyphs" transform="rotate(-18.5 228.3 647.0)" >X: 5.0µm</text>
<polygon points="235.6,546.4 177.5,529.7 180.4,519.6 155.7,533.3 169.4,558.0 172.3,548.0 230.4,564.6" fill="url(#gBl)" filter="url(#ashadow)"/>
<polygon points="455.6,644.4 644.2,589 644.7,594.5 456.1,648.4" fill="#8e8c8c"/>
<polygon points="644.2,589 639.2,577 644.7,594" fill="#a8a6a4"/>
<g transform="matrix(0.80043 -0.24468 0.28468 0.61489 388.7 499.9)"><g clip-path="url(#c3d1)">
<rect x="0" y="0" width="235.0" height="235.0" fill="url(#sg_d1)"/>
<ellipse cx="0" cy="223.2" rx="32.9" ry="98.7" fill="url(#darkTL)"/>
<ellipse cx="0" cy="23.5" rx="18.8" ry="37.6" fill="url(#darkTL)" opacity="0.40"/>
<ellipse cx="110" cy="29" rx="34" ry="21" fill="url(#spotW)" transform="rotate(12 110 29)" opacity="0.9"/>
<ellipse cx="102" cy="25" rx="19" ry="13" fill="url(#spotW)" transform="rotate(20 104 26)"/>
<circle cx="137.5" cy="149.2" r="13" fill="url(#spotF)"/>
<circle cx="198.6" cy="82.2" r="12" fill="url(#spotF)"/>
<ellipse cx="112" cy="22" rx="34" ry="20" fill="url(#spotW)" transform="rotate(-10 112 22)" opacity="1"/>
<path d="M74,32 L92,12 L97,16 L79,35 Z" fill="#4a2014" opacity="0.75"/>
<path d="M62,26 L82,6 L94,12 L74,32 Z" fill="#e8987a" opacity="0.95"/>
</g></g>
<text x="387.2" y="490.4" font-size="15.5" fill="#666" font-family="'Liberation Serif', 'Times New Roman', serif" font-weight="bold" font-style="italic" textLength="106.0" lengthAdjust="spacingAndGlyphs" transform="rotate(-16 387.2 490.4)" >Z: 515.5nm</text>
<text x="392.7" y="556.9" font-size="16.5" fill="#999" font-family="'Liberation Serif', 'Times New Roman', serif" textLength="74.0" lengthAdjust="spacingAndGlyphs" transform="rotate(64 392.7 556.9)" >Y: 5.0µm</text>
<text x="521.7" y="644.9" font-size="16.5" fill="#999" font-family="'Liberation Serif', 'Times New Roman', serif" textLength="89.0" lengthAdjust="spacingAndGlyphs" transform="rotate(-18.5 521.7 644.9)" >X: 5.0µm</text>
<polygon points="525.3,534.6 482.1,577.7 474.6,570.2 474.6,598.5 502.9,598.5 495.5,591.1 538.7,548.0" fill="url(#gBl)" filter="url(#ashadow)"/>
<polygon points="751.9,641.5 937.9,585.7 938.4,591.2 752.4,645.5" fill="#8e8c8c"/>
<polygon points="937.9,585.7 932.9,573.7 938.4,590.7" fill="#a8a6a4"/>
<g transform="matrix(0.79574 -0.24723 0.28809 0.59660 684.2 501.3)"><g clip-path="url(#c3d2)">
<rect x="0" y="0" width="235.0" height="235.0" fill="url(#sg_d2)"/>
<ellipse cx="23.5" cy="23.5" rx="65.8" ry="70.5" fill="url(#darkTL)" opacity="0.35"/>
<ellipse cx="0" cy="28.2" rx="21.1" ry="61.1" fill="url(#darkTL)"/>
<ellipse cx="110" cy="29" rx="34" ry="21" fill="url(#spotY)" transform="rotate(12 110 29)" opacity="0.9"/>
<ellipse cx="102" cy="25" rx="19" ry="13" fill="url(#spotY)" transform="rotate(20 104 26)"/>
<circle cx="137.5" cy="149.2" r="13" fill="url(#spotF)"/>
<circle cx="198.6" cy="82.2" r="12" fill="url(#spotF)"/>
<ellipse cx="112" cy="22" rx="34" ry="20" fill="url(#spotY)" transform="rotate(-10 112 22)" opacity="0.8"/>
<path d="M74,32 L92,12 L97,16 L79,35 Z" fill="#4a2014" opacity="0.75"/>
<path d="M62,26 L82,6 L94,12 L74,32 Z" fill="#e8987a" opacity="0.95"/>
</g></g>
<text x="682.7" y="491.8" font-size="15.5" fill="#666" font-family="'Liberation Serif', 'Times New Roman', serif" font-weight="bold" font-style="italic" textLength="106.0" lengthAdjust="spacingAndGlyphs" transform="rotate(-16 682.7 491.8)" >Z: 466.2nm</text>
<text x="688.2" y="558.3" font-size="16.5" fill="#999" font-family="'Liberation Serif', 'Times New Roman', serif" textLength="74.0" lengthAdjust="spacingAndGlyphs" transform="rotate(64 688.2 558.3)" >Y: 5.0µm</text>
<text x="817.2" y="646.3" font-size="16.5" fill="#999" font-family="'Liberation Serif', 'Times New Roman', serif" textLength="89.0" lengthAdjust="spacingAndGlyphs" transform="rotate(-18.5 817.2 646.3)" >X: 5.0µm</text>
<polygon points="823.8,546.2 765.0,529.7 767.8,519.6 743.2,533.5 757.1,558.1 759.9,548.0 818.6,564.4" fill="url(#gBl)" filter="url(#ashadow)"/>
<polygon points="1045.2,646.3 1233.8,589.9 1234.3,595.4 1045.7,650.3" fill="#8e8c8c"/>
<polygon points="1233.8,589.9 1228.8,577.9 1234.3,594.9" fill="#a8a6a4"/>
<g transform="matrix(0.79574 -0.25106 0.28809 0.61021 977.5 502.9)"><g clip-path="url(#c3d3)">
<rect x="0" y="0" width="235.0" height="235.0" fill="url(#sg_d3)"/>
<ellipse cx="0" cy="223.2" rx="32.9" ry="98.7" fill="url(#darkTL)"/>
<ellipse cx="0" cy="23.5" rx="18.8" ry="37.6" fill="url(#darkTL)" opacity="0.40"/>
<ellipse cx="110" cy="29" rx="34" ry="21" fill="url(#spotY)" transform="rotate(12 110 29)" opacity="0.9"/>
<ellipse cx="102" cy="25" rx="19" ry="13" fill="url(#spotY)" transform="rotate(20 104 26)"/>
<circle cx="137.5" cy="149.2" r="13" fill="url(#spotF)"/>
<circle cx="198.6" cy="82.2" r="12" fill="url(#spotF)"/>
<ellipse cx="112" cy="22" rx="34" ry="20" fill="url(#spotY)" transform="rotate(-10 112 22)" opacity="0.8"/>
<path d="M74,32 L92,12 L97,16 L79,35 Z" fill="#4a2014" opacity="0.75"/>
<path d="M62,26 L82,6 L94,12 L74,32 Z" fill="#e8987a" opacity="0.95"/>
</g></g>
<text x="976.0" y="493.4" font-size="15.5" fill="#666" font-family="'Liberation Serif', 'Times New Roman', serif" font-weight="bold" font-style="italic" textLength="106.0" lengthAdjust="spacingAndGlyphs" transform="rotate(-16 976.0 493.4)" >Z: 510.6nm</text>
<text x="981.5" y="559.9" font-size="16.5" fill="#999" font-family="'Liberation Serif', 'Times New Roman', serif" textLength="74.0" lengthAdjust="spacingAndGlyphs" transform="rotate(64 981.5 559.9)" >Y: 5.0µm</text>
<text x="1110.5" y="647.9" font-size="16.5" fill="#999" font-family="'Liberation Serif', 'Times New Roman', serif" textLength="89.0" lengthAdjust="spacingAndGlyphs" transform="rotate(-18.5 1110.5 647.9)" >X: 5.0µm</text>
<polygon points="1110.8,534.1 1069.9,577.0 1062.3,569.7 1063.0,598.0 1091.3,597.3 1083.7,590.1 1124.6,547.3" fill="url(#gBl)" filter="url(#ashadow)"/>
<polygon points="1342,646.3 1528.7,589.2 1529.2,594.7 1342.5,650.3" fill="#8e8c8c"/>
<polygon points="1528.7,589.2 1523.7,577.2 1529.2,594.2" fill="#a8a6a4"/>
<g transform="matrix(0.79702 -0.23532 0.29021 0.61830 1273.8 501)"><g clip-path="url(#c3d4)">
<rect x="0" y="0" width="235.0" height="235.0" fill="url(#sg_d4)"/>
<ellipse cx="23.5" cy="23.5" rx="65.8" ry="70.5" fill="url(#darkTL)" opacity="0.35"/>
<ellipse cx="0" cy="28.2" rx="21.1" ry="61.1" fill="url(#darkTL)"/>
<ellipse cx="110" cy="29" rx="34" ry="21" fill="url(#spotY)" transform="rotate(12 110 29)" opacity="0.9"/>
<ellipse cx="102" cy="25" rx="19" ry="13" fill="url(#spotY)" transform="rotate(20 104 26)"/>
<circle cx="137.5" cy="149.2" r="13" fill="url(#spotF)"/>
<circle cx="198.6" cy="82.2" r="12" fill="url(#spotF)"/>
<ellipse cx="112" cy="22" rx="34" ry="20" fill="url(#spotY)" transform="rotate(-10 112 22)" opacity="0.8"/>
<path d="M74,32 L92,12 L97,16 L79,35 Z" fill="#4a2014" opacity="0.75"/>
<path d="M62,26 L82,6 L94,12 L74,32 Z" fill="#2a1c1a" opacity="0.95"/>
<path d="M66,22 L80,10 L84,13 L70,25 Z" fill="#9a9aa8" opacity="0.8"/>
</g></g>
<text x="1272.3" y="491.5" font-size="15.5" fill="#666" font-family="'Liberation Serif', 'Times New Roman', serif" font-weight="bold" font-style="italic" textLength="106.0" lengthAdjust="spacingAndGlyphs" transform="rotate(-16 1272.3 491.5)" >Z: 717.2nm</text>
<text x="1277.8" y="558.0" font-size="16.5" fill="#999" font-family="'Liberation Serif', 'Times New Roman', serif" textLength="74.0" lengthAdjust="spacingAndGlyphs" transform="rotate(64 1277.8 558.0)" >Y: 5.0µm</text>
<text x="1406.8" y="646.0" font-size="16.5" fill="#999" font-family="'Liberation Serif', 'Times New Roman', serif" textLength="89.0" lengthAdjust="spacingAndGlyphs" transform="rotate(-18.5 1406.8 646.0)" >X: 5.0µm</text>
<polygon points="1411.1,545.8 1353.7,530.6 1356.4,520.4 1331.9,534.6 1346.1,559.1 1348.8,548.9 1406.3,564.2" fill="url(#gBl)" filter="url(#ashadow)"/>
<polygon points="1635.7,648 1824.6,587.6 1825.1,593.1 1636.2,652" fill="#8e8c8c"/>
<polygon points="1824.6,587.6 1819.6,575.6 1825.1,592.6" fill="#a8a6a4"/>
<g transform="matrix(0.79702 -0.24723 0.29021 0.62170 1567.5 501.9)"><g clip-path="url(#c3d5)">
<rect x="0" y="0" width="235.0" height="235.0" fill="url(#sg_d5)"/>
<ellipse cx="0" cy="223.2" rx="32.9" ry="98.7" fill="url(#darkTL)"/>
<ellipse cx="0" cy="23.5" rx="18.8" ry="37.6" fill="url(#darkTL)" opacity="0.40"/>
<ellipse cx="110" cy="29" rx="34" ry="21" fill="url(#spotY)" transform="rotate(12 110 29)" opacity="0.9"/>
<ellipse cx="102" cy="25" rx="19" ry="13" fill="url(#spotY)" transform="rotate(20 104 26)"/>
<circle cx="137.5" cy="149.2" r="13" fill="url(#spotF)"/>
<circle cx="198.6" cy="82.2" r="12" fill="url(#spotF)"/>
<ellipse cx="112" cy="22" rx="34" ry="20" fill="url(#spotY)" transform="rotate(-10 112 22)" opacity="0.8"/>
<path d="M74,32 L92,12 L97,16 L79,35 Z" fill="#4a2014" opacity="0.75"/>
<path d="M62,26 L82,6 L94,12 L74,32 Z" fill="#e8987a" opacity="0.95"/>
</g></g>
<text x="1566.0" y="492.4" font-size="15.5" fill="#666" font-family="'Liberation Serif', 'Times New Roman', serif" font-weight="bold" font-style="italic" textLength="106.0" lengthAdjust="spacingAndGlyphs" transform="rotate(-16 1566.0 492.4)" >Z: 455.2nm</text>
<text x="1571.5" y="558.9" font-size="16.5" fill="#999" font-family="'Liberation Serif', 'Times New Roman', serif" textLength="74.0" lengthAdjust="spacingAndGlyphs" transform="rotate(64 1571.5 558.9)" >Y: 5.0µm</text>
<text x="1700.5" y="646.9" font-size="16.5" fill="#999" font-family="'Liberation Serif', 'Times New Roman', serif" textLength="89.0" lengthAdjust="spacingAndGlyphs" transform="rotate(-18.5 1700.5 646.9)" >X: 5.0µm</text>
<polygon points="1700.4,533.8 1656.7,577.8 1649.3,570.4 1649.4,598.7 1677.7,598.6 1670.2,591.2 1713.8,547.2" fill="url(#gBl)" filter="url(#ashadow)"/>
<line x1="138" y1="932.6" x2="340.5" y2="932.6" stroke="#999" stroke-width="1.3" stroke-dasharray="2,3"/>
<line x1="149.5" y1="941.6" x2="149.5" y2="739" stroke="#999" stroke-width="1.2" stroke-dasharray="2,3"/>
<path d="M138,739V941.6H340.5" stroke="#8a8a8a" stroke-width="1.6" fill="none"/>
<path d="M138,932.6h4.5M138,922.2h2.8M138,911.8h4.5M138,901.3h2.8M138,890.9h4.5M138,880.5h2.8M138,870.1h4.5M138,859.6h2.8M138,849.2h4.5M138,838.8h2.8M138,828.4h4.5M138,818.0h2.8M138,807.5h4.5M138,797.1h2.8M138,786.7h4.5M138,776.3h2.8M138,765.8h4.5M138,755.4h2.8M138,745.0h4.5M149.5,941.6v-5.5M161.3,941.6v-3M173.2,941.6v-5.5M185.0,941.6v-3M196.8,941.6v-5.5M208.7,941.6v-3M220.5,941.6v-5.5M232.4,941.6v-3M244.2,941.6v-5.5M256.0,941.6v-3M267.9,941.6v-5.5M279.7,941.6v-3M291.6,941.6v-5.5M303.4,941.6v-3M315.2,941.6v-5.5M327.1,941.6v-3M338.9,941.6v-5.5" stroke="#8a8a8a" stroke-width="1.5" fill="none"/>
<text x="134.5" y="937.6" font-size="15" fill="#111" font-family="'Liberation Sans', Arial, sans-serif" text-anchor="end" >0</text>
<text x="134.5" y="916.8" font-size="15" fill="#111" font-family="'Liberation Sans', Arial, sans-serif" text-anchor="end" >20</text>
<text x="134.5" y="895.9" font-size="15" fill="#111" font-family="'Liberation Sans', Arial, sans-serif" text-anchor="end" >40</text>
<text x="134.5" y="875.1" font-size="15" fill="#111" font-family="'Liberation Sans', Arial, sans-serif" text-anchor="end" >60</text>
<text x="134.5" y="854.2" font-size="15" fill="#111" font-family="'Liberation Sans', Arial, sans-serif" text-anchor="end" >80</text>
<text x="134.5" y="833.4" font-size="15" fill="#111" font-family="'Liberation Sans', Arial, sans-serif" text-anchor="end" >100</text>
<text x="134.5" y="812.5" font-size="15" fill="#111" font-family="'Liberation Sans', Arial, sans-serif" text-anchor="end" >120</text>
<text x="134.5" y="791.7" font-size="15" fill="#111" font-family="'Liberation Sans', Arial, sans-serif" text-anchor="end" >140</text>
<text x="134.5" y="770.8" font-size="15" fill="#111" font-family="'Liberation Sans', Arial, sans-serif" text-anchor="end" >160</text>
<text x="134.5" y="750.0" font-size="15" fill="#111" font-family="'Liberation Sans', Arial, sans-serif" text-anchor="end" >180</text>
<text x="149.5" y="958.9" font-size="14.5" fill="#111" font-family="'Liberation Sans', Arial, sans-serif" text-anchor="middle" >0</text>
<text x="173.2" y="958.9" font-size="14.5" fill="#111" font-family="'Liberation Sans', Arial, sans-serif" text-anchor="middle" >0.5</text>
<text x="196.8" y="958.9" font-size="14.5" fill="#111" font-family="'Liberation Sans', Arial, sans-serif" text-anchor="middle" >1</text>
<text x="220.5" y="958.9" font-size="14.5" fill="#111" font-family="'Liberation Sans', Arial, sans-serif" text-anchor="middle" >1.5</text>
<text x="244.2" y="958.9" font-size="14.5" fill="#111" font-family="'Liberation Sans', Arial, sans-serif" text-anchor="middle" >2</text>
<text x="267.9" y="958.9" font-size="14.5" fill="#111" font-family="'Liberation Sans', Arial, sans-serif" text-anchor="middle" >2.5</text>
<text x="291.6" y="958.9" font-size="14.5" fill="#111" font-family="'Liberation Sans', Arial, sans-serif" text-anchor="middle" >3</text>
<text x="315.2" y="958.9" font-size="14.5" fill="#111" font-family="'Liberation Sans', Arial, sans-serif" text-anchor="middle" >3.5</text>
<text x="338.9" y="958.9" font-size="14.5" fill="#111" font-family="'Liberation Sans', Arial, sans-serif" text-anchor="middle" >4</text>
<rect x="138.9" y="706.0" width="33.6" height="32.9" fill="none" stroke="#777" stroke-width="1.4"/>
<path d="M138.9,706.0L172.5,738.9M172.5,706.0L138.9,738.9" stroke="#8a8a8a" stroke-width="1" fill="none"/>
<rect x="320.0" y="706.0" width="32.8" height="32.9" fill="none" stroke="#777" stroke-width="1.4"/>
<path d="M320.0,706.0L352.8,738.9M352.8,706.0L320.0,738.9" stroke="#8a8a8a" stroke-width="1" fill="none"/>
<path d="M156,738.9V941.6M336,738.9V941.6" stroke="#888" stroke-width="1.4" fill="none"/>
<polyline points="149.5,932.6 152.0,903.1 153.9,870.3 155.2,861.3 156.9,867.0 159.3,903.1 161.8,917.0 165.1,915.4 168.4,913.0 172.5,906.4 176.6,893.3 180.7,870.3 184.8,847.4 187.2,851.5 191.3,870.3 197.9,887.5 202.8,885.1 207.7,878.5 212.6,872.0 219.2,865.4 227.4,860.5 231.5,861.3 233.9,857.2 242.1,847.4 248.7,837.5 256.9,834.3 263.4,832.6 273.3,822.8 281.5,817.0 289.7,810.5 297.9,803.1 306.1,788.4 312.6,775.2 322.5,767.0 329.0,758.9 335.6,748.2" fill="none" stroke="#7cc274" stroke-width="1.2" stroke-linejoin="round"/>
<text x="94.3" y="828.5" font-size="16.3" fill="#111" font-family="'Liberation Sans', Arial, sans-serif" text-anchor="middle" transform="rotate(-90 94.3 828.5)" >Z (nm)</text>
<text x="244.6" y="979.0" font-size="16.3" fill="#111" font-family="'Liberation Sans', Arial, sans-serif" text-anchor="middle" >X (µm)</text>
<text x="235.6" y="755.6" font-size="22.2" fill="#000" font-family="'Liberation Sans', Arial, sans-serif" text-anchor="middle" >Profile 1</text>
<polygon points="243.8,897.3 288.5,851.9 294.8,858.1 294.6,832.6 269.1,832.8 275.4,838.9 230.6,884.3" fill="url(#gOr)" filter="url(#ashadow)"/>
<line x1="428.5" y1="930.7" x2="630.5" y2="930.7" stroke="#999" stroke-width="1.3" stroke-dasharray="2,3"/>
<line x1="439.5" y1="939" x2="439.5" y2="736.7" stroke="#999" stroke-width="1.2" stroke-dasharray="2,3"/>
<path d="M428.5,736.7V939H630.5" stroke="#8a8a8a" stroke-width="1.6" fill="none"/>
<path d="M428.5,930.7h4.5M428.5,917.8h2.8M428.5,904.9h4.5M428.5,892.0h2.8M428.5,879.2h4.5M428.5,866.3h2.8M428.5,853.4h4.5M428.5,840.5h2.8M428.5,827.6h4.5M428.5,814.7h2.8M428.5,801.8h4.5M428.5,789.0h2.8M428.5,776.1h4.5M428.5,763.2h2.8M428.5,750.3h4.5M428.5,737.4h2.8M438.4,939v-5.5M449.2,939v-3M460.0,939v-5.5M470.9,939v-3M481.7,939v-5.5M492.5,939v-3M503.3,939v-5.5M514.2,939v-3M525.0,939v-5.5M535.8,939v-3M546.6,939v-5.5M557.5,939v-3M568.3,939v-5.5M579.1,939v-3M589.9,939v-5.5M600.8,939v-3M611.6,939v-5.5M622.4,939v-3" stroke="#8a8a8a" stroke-width="1.5" fill="none"/>
<text x="425.0" y="935.7" font-size="15" fill="#111" font-family="'Liberation Sans', Arial, sans-serif" text-anchor="end" >0</text>
<text x="425.0" y="909.9" font-size="15" fill="#111" font-family="'Liberation Sans', Arial, sans-serif" text-anchor="end" >20</text>
<text x="425.0" y="884.2" font-size="15" fill="#111" font-family="'Liberation Sans', Arial, sans-serif" text-anchor="end" >40</text>
<text x="425.0" y="858.4" font-size="15" fill="#111" font-family="'Liberation Sans', Arial, sans-serif" text-anchor="end" >60</text>
<text x="425.0" y="832.6" font-size="15" fill="#111" font-family="'Liberation Sans', Arial, sans-serif" text-anchor="end" >80</text>
<text x="425.0" y="806.8" font-size="15" fill="#111" font-family="'Liberation Sans', Arial, sans-serif" text-anchor="end" >100</text>
<text x="425.0" y="781.1" font-size="15" fill="#111" font-family="'Liberation Sans', Arial, sans-serif" text-anchor="end" >120</text>
<text x="425.0" y="755.3" font-size="15" fill="#111" font-family="'Liberation Sans', Arial, sans-serif" text-anchor="end" >140</text>
<text x="438.4" y="958.0" font-size="14.5" fill="#111" font-family="'Liberation Sans', Arial, sans-serif" text-anchor="middle" >0</text>
<text x="460.0" y="958.0" font-size="14.5" fill="#111" font-family="'Liberation Sans', Arial, sans-serif" text-anchor="middle" >0.5</text>
<text x="481.7" y="958.0" font-size="14.5" fill="#111" font-family="'Liberation Sans', Arial, sans-serif" text-anchor="middle" >1</text>
<text x="503.3" y="958.0" font-size="14.5" fill="#111" font-family="'Liberation Sans', Arial, sans-serif" text-anchor="middle" >1.5</text>
<text x="525.0" y="958.0" font-size="14.5" fill="#111" font-family="'Liberation Sans', Arial, sans-serif" text-anchor="middle" >2</text>
<text x="546.6" y="958.0" font-size="14.5" fill="#111" font-family="'Liberation Sans', Arial, sans-serif" text-anchor="middle" >2.5</text>
<text x="568.3" y="958.0" font-size="14.5" fill="#111" font-family="'Liberation Sans', Arial, sans-serif" text-anchor="middle" >3</text>
<text x="589.9" y="958.0" font-size="14.5" fill="#111" font-family="'Liberation Sans', Arial, sans-serif" text-anchor="middle" >3.5</text>
<text x="611.6" y="958.0" font-size="14.5" fill="#111" font-family="'Liberation Sans', Arial, sans-serif" text-anchor="middle" >4</text>
<rect x="430.5" y="703.0" width="32.5" height="32.6" fill="none" stroke="#777" stroke-width="1.4"/>
<path d="M430.5,703.0L463.0,735.6M463.0,703.0L430.5,735.6" stroke="#8a8a8a" stroke-width="1" fill="none"/>
<rect x="609.5" y="703.0" width="32.8" height="32.6" fill="none" stroke="#777" stroke-width="1.4"/>
<path d="M609.5,703.0L642.3,735.6M642.3,703.0L609.5,735.6" stroke="#8a8a8a" stroke-width="1" fill="none"/>
<path d="M446,735.6V939M626,735.6V939" stroke="#888" stroke-width="1.4" fill="none"/>
<polyline points="439.8,885.1 442.8,853.9 445.2,788.4 446.6,746.6 448.5,763.8 449.8,788.4 451.8,829.3 455.1,847.4 460.0,855.6 463.3,854.8 468.2,845.7 473.1,826.1 474.8,819.5 477.2,826.1 481.3,853.9 486.2,878.5 491.1,896.6 496.1,899.0 501.0,901.5 507.5,906.4 515.7,916.2 523.9,920.3 532.1,921.1 540.3,923.6 548.5,926.1 556.7,925.2 563.3,927.7 570.7,930.2 576.4,926.1 586.2,918.7 596.1,913.0 605.9,899.8 615.7,886.7 625.9,880.2" fill="none" stroke="#7cc274" stroke-width="1.2" stroke-linejoin="round"/>
<text x="388.4" y="828.5" font-size="16.3" fill="#111" font-family="'Liberation Sans', Arial, sans-serif" text-anchor="middle" transform="rotate(-90 388.4 828.5)" >Z (nm)</text>
<text x="525.1" y="979.5" font-size="16.3" fill="#111" font-family="'Liberation Sans', Arial, sans-serif" text-anchor="middle" >X (µm)</text>
<text x="533.8" y="755.6" font-size="22.2" fill="#000" font-family="'Liberation Sans', Arial, sans-serif" text-anchor="middle" >Profile 1</text>
<polygon points="504.1,837.7 558.7,868.7 554.4,876.3 578.9,869.5 572.1,845.0 567.8,852.6 513.3,821.7" fill="url(#gOr)" filter="url(#ashadow)"/>
<line x1="719.7" y1="937.9" x2="928.7" y2="937.9" stroke="#999" stroke-width="1.3" stroke-dasharray="2,3"/>
<line x1="730.8" y1="946.6" x2="730.8" y2="736.7" stroke="#999" stroke-width="1.2" stroke-dasharray="2,3"/>
<path d="M719.7,736.7V946.6H928.7" stroke="#8a8a8a" stroke-width="1.6" fill="none"/>
<path d="M719.7,937.9h4.5M719.7,924.5h2.8M719.7,911.1h4.5M719.7,897.7h2.8M719.7,884.3h4.5M719.7,870.9h2.8M719.7,857.5h4.5M719.7,844.1h2.8M719.7,830.7h4.5M719.7,817.3h2.8M719.7,803.9h4.5M719.7,790.5h2.8M719.7,777.1h4.5M719.7,763.7h2.8M719.7,750.3h4.5M719.7,736.9h2.8M730.8,946.6v-5.5M743.6,946.6v-3M756.3,946.6v-5.5M769.1,946.6v-3M781.9,946.6v-5.5M794.7,946.6v-3M807.4,946.6v-5.5M820.2,946.6v-3M833.0,946.6v-5.5M845.8,946.6v-3M858.5,946.6v-5.5M871.3,946.6v-3M884.1,946.6v-5.5M896.9,946.6v-3M909.6,946.6v-5.5M922.4,946.6v-3" stroke="#8a8a8a" stroke-width="1.5" fill="none"/>
<text x="716.2" y="942.9" font-size="15" fill="#111" font-family="'Liberation Sans', Arial, sans-serif" text-anchor="end" >0</text>
<text x="716.2" y="916.1" font-size="15" fill="#111" font-family="'Liberation Sans', Arial, sans-serif" text-anchor="end" >20</text>
<text x="716.2" y="889.3" font-size="15" fill="#111" font-family="'Liberation Sans', Arial, sans-serif" text-anchor="end" >40</text>
<text x="716.2" y="862.5" font-size="15" fill="#111" font-family="'Liberation Sans', Arial, sans-serif" text-anchor="end" >60</text>
<text x="716.2" y="835.7" font-size="15" fill="#111" font-family="'Liberation Sans', Arial, sans-serif" text-anchor="end" >80</text>
<text x="716.2" y="808.9" font-size="15" fill="#111" font-family="'Liberation Sans', Arial, sans-serif" text-anchor="end" >100</text>
<text x="716.2" y="782.1" font-size="15" fill="#111" font-family="'Liberation Sans', Arial, sans-serif" text-anchor="end" >120</text>
<text x="716.2" y="755.3" font-size="15" fill="#111" font-family="'Liberation Sans', Arial, sans-serif" text-anchor="end" >140</text>
<text x="730.8" y="963.8" font-size="14.5" fill="#111" font-family="'Liberation Sans', Arial, sans-serif" text-anchor="middle" >0</text>
<text x="756.3" y="963.8" font-size="14.5" fill="#111" font-family="'Liberation Sans', Arial, sans-serif" text-anchor="middle" >0.5</text>
<text x="781.9" y="963.8" font-size="14.5" fill="#111" font-family="'Liberation Sans', Arial, sans-serif" text-anchor="middle" >1</text>
<text x="807.4" y="963.8" font-size="14.5" fill="#111" font-family="'Liberation Sans', Arial, sans-serif" text-anchor="middle" >1.5</text>
<text x="833.0" y="963.8" font-size="14.5" fill="#111" font-family="'Liberation Sans', Arial, sans-serif" text-anchor="middle" >2</text>
<text x="858.5" y="963.8" font-size="14.5" fill="#111" font-family="'Liberation Sans', Arial, sans-serif" text-anchor="middle" >2.5</text>
<text x="884.1" y="963.8" font-size="14.5" fill="#111" font-family="'Liberation Sans', Arial, sans-serif" text-anchor="middle" >3</text>
<text x="909.6" y="963.8" font-size="14.5" fill="#111" font-family="'Liberation Sans', Arial, sans-serif" text-anchor="middle" >3.5</text>
<rect x="718.5" y="702.3" width="33.5" height="33.7" fill="none" stroke="#777" stroke-width="1.4"/>
<path d="M718.5,702.3L752.0,736.0M752.0,702.3L718.5,736.0" stroke="#8a8a8a" stroke-width="1" fill="none"/>
<rect x="906.6" y="702.3" width="34.4" height="33.7" fill="none" stroke="#777" stroke-width="1.4"/>
<path d="M906.6,702.3L941.0,736.0M941.0,702.3L906.6,736.0" stroke="#8a8a8a" stroke-width="1" fill="none"/>
<path d="M734.4,736V946.6M923.4,736V946.6" stroke="#888" stroke-width="1.4" fill="none"/>
<polyline points="730.8,937.5 732.8,916.2 733.9,901.5 736.9,916.2 741.0,930.2 745.1,927.7 750.0,922.8 753.3,916.2 758.2,893.3 763.1,853.9 765.6,843.3 768.0,849.0 773.0,867.0 779.5,885.1 782.8,887.5 787.7,883.4 794.3,873.6 800.8,868.7 809.0,864.6 813.9,862.1 817.2,860.5 823.8,853.9 830.3,849.0 838.5,842.5 846.7,838.4 853.3,834.3 859.8,827.7 869.7,818.7 876.2,808.0 886.1,798.2 894.3,786.7 902.5,773.6 909.0,765.4 915.6,755.6 923.4,745.7" fill="none" stroke="#7cc274" stroke-width="1.2" stroke-linejoin="round"/>
<text x="678.4" y="828.5" font-size="16.3" fill="#111" font-family="'Liberation Sans', Arial, sans-serif" text-anchor="middle" transform="rotate(-90 678.4 828.5)" >Z (nm)</text>
<text x="817.5" y="985.0" font-size="16.3" fill="#111" font-family="'Liberation Sans', Arial, sans-serif" text-anchor="middle" >X (µm)</text>
<text x="832.8" y="755.6" font-size="22.2" fill="#000" font-family="'Liberation Sans', Arial, sans-serif" text-anchor="middle" >Profile 1</text>
<polygon points="842.1,896.8 887.2,851.9 893.4,858.1 893.4,832.6 867.9,832.6 874.1,838.8 829.1,883.8" fill="url(#gOr)" filter="url(#ashadow)"/>
<line x1="1010.6" y1="940" x2="1222.9" y2="940" stroke="#999" stroke-width="1.3" stroke-dasharray="2,3"/>
<line x1="1022" y1="949" x2="1022" y2="737.5" stroke="#999" stroke-width="1.2" stroke-dasharray="2,3"/>
<path d="M1010.6,737.5V949H1222.9" stroke="#8a8a8a" stroke-width="1.6" fill="none"/>
<path d="M1010.6,940.0h4.5M1010.6,922.3h2.8M1010.6,904.6h4.5M1010.6,886.9h2.8M1010.6,869.2h4.5M1010.6,851.5h2.8M1010.6,833.8h4.5M1010.6,816.1h2.8M1010.6,798.4h4.5M1010.6,780.7h2.8M1010.6,763.0h4.5M1010.6,745.3h2.8M1022.0,949v-5.5M1034.7,949v-3M1047.3,949v-5.5M1060.0,949v-3M1072.6,949v-5.5M1085.2,949v-3M1097.9,949v-5.5M1110.5,949v-3M1123.2,949v-5.5M1135.8,949v-3M1148.5,949v-5.5M1161.2,949v-3M1173.8,949v-5.5M1186.5,949v-3M1199.1,949v-5.5M1211.8,949v-3" stroke="#8a8a8a" stroke-width="1.5" fill="none"/>
<text x="1007.1" y="945.0" font-size="15" fill="#111" font-family="'Liberation Sans', Arial, sans-serif" text-anchor="end" >0</text>
<text x="1007.1" y="909.6" font-size="15" fill="#111" font-family="'Liberation Sans', Arial, sans-serif" text-anchor="end" >20</text>
<text x="1007.1" y="874.2" font-size="15" fill="#111" font-family="'Liberation Sans', Arial, sans-serif" text-anchor="end" >40</text>
<text x="1007.1" y="838.8" font-size="15" fill="#111" font-family="'Liberation Sans', Arial, sans-serif" text-anchor="end" >60</text>
<text x="1007.1" y="803.4" font-size="15" fill="#111" font-family="'Liberation Sans', Arial, sans-serif" text-anchor="end" >80</text>
<text x="1007.1" y="768.0" font-size="15" fill="#111" font-family="'Liberation Sans', Arial, sans-serif" text-anchor="end" >100</text>
<text x="1022.0" y="966.2" font-size="14.5" fill="#111" font-family="'Liberation Sans', Arial, sans-serif" text-anchor="middle" >0</text>
<text x="1047.3" y="966.2" font-size="14.5" fill="#111" font-family="'Liberation Sans', Arial, sans-serif" text-anchor="middle" >0.5</text>
<text x="1072.6" y="966.2" font-size="14.5" fill="#111" font-family="'Liberation Sans', Arial, sans-serif" text-anchor="middle" >1</text>
<text x="1097.9" y="966.2" font-size="14.5" fill="#111" font-family="'Liberation Sans', Arial, sans-serif" text-anchor="middle" >1.5</text>
<text x="1123.2" y="966.2" font-size="14.5" fill="#111" font-family="'Liberation Sans', Arial, sans-serif" text-anchor="middle" >2</text>
<text x="1148.5" y="966.2" font-size="14.5" fill="#111" font-family="'Liberation Sans', Arial, sans-serif" text-anchor="middle" >2.5</text>
<text x="1173.8" y="966.2" font-size="14.5" fill="#111" font-family="'Liberation Sans', Arial, sans-serif" text-anchor="middle" >3</text>
<text x="1199.1" y="966.2" font-size="14.5" fill="#111" font-family="'Liberation Sans', Arial, sans-serif" text-anchor="middle" >3.5</text>
<rect x="1008.0" y="702.3" width="34.5" height="34.1" fill="none" stroke="#777" stroke-width="1.4"/>
<path d="M1008.0,702.3L1042.5,736.4M1042.5,702.3L1008.0,736.4" stroke="#8a8a8a" stroke-width="1" fill="none"/>
<rect x="1200.4" y="702.3" width="34.4" height="34.1" fill="none" stroke="#777" stroke-width="1.4"/>
<path d="M1200.4,702.3L1234.8,736.4M1234.8,702.3L1200.4,736.4" stroke="#8a8a8a" stroke-width="1" fill="none"/>
<path d="M1024.8,736.4V949M1217.5,736.4V949" stroke="#888" stroke-width="1.4" fill="none"/>
<polyline points="1022.5,788.4 1023.7,755.6 1024.8,747.4 1027.0,758.9 1030.2,781.8 1035.2,803.1 1040.9,812.1 1044.2,809.7 1048.3,794.9 1052.4,772.0 1054.5,760.5 1057.3,775.2 1060.6,801.5 1064.7,826.1 1071.2,850.7 1077.8,867.0 1084.3,880.2 1087.6,884.3 1094.2,888.4 1102.4,896.6 1108.9,906.4 1117.1,916.2 1125.3,918.7 1133.5,922.8 1141.7,929.3 1148.3,934.3 1153.2,935.9 1158.1,932.6 1164.7,932.6 1171.2,936.7 1176.1,939.2 1182.7,937.5 1189.3,932.6 1194.2,931.0 1200.7,934.3 1207.3,934.3 1217.1,935.1" fill="none" stroke="#7cc274" stroke-width="1.2" stroke-linejoin="round"/>
<text x="977.5" y="830.2" font-size="16.3" fill="#111" font-family="'Liberation Sans', Arial, sans-serif" text-anchor="middle" transform="rotate(-90 977.5 830.2)" >Z (nm)</text>
<text x="1109.8" y="987.5" font-size="16.3" fill="#111" font-family="'Liberation Sans', Arial, sans-serif" text-anchor="middle" >X (µm)</text>
<text x="1122.0" y="755.6" font-size="22.2" fill="#000" font-family="'Liberation Sans', Arial, sans-serif" text-anchor="middle" >Profile 1</text>
<polygon points="1085.6,852.4 1141.2,884.2 1136.8,891.8 1161.4,885.1 1154.7,860.5 1150.4,868.1 1094.8,836.4" fill="url(#gOr)" filter="url(#ashadow)"/>
<line x1="1310.5" y1="933.4" x2="1517" y2="933.4" stroke="#999" stroke-width="1.3" stroke-dasharray="2,3"/>
<line x1="1322" y1="941.6" x2="1322" y2="734" stroke="#999" stroke-width="1.2" stroke-dasharray="2,3"/>
<path d="M1310.5,734V941.6H1517" stroke="#8a8a8a" stroke-width="1.6" fill="none"/>
<path d="M1310.5,933.4h4.5M1310.5,907.9h2.8M1310.5,882.4h4.5M1310.5,857.0h2.8M1310.5,831.5h4.5M1310.5,806.0h2.8M1310.5,780.5h4.5M1310.5,755.0h2.8M1322.0,941.6v-5.5M1334.2,941.6v-3M1346.5,941.6v-5.5M1358.7,941.6v-3M1370.9,941.6v-5.5M1383.1,941.6v-3M1395.3,941.6v-5.5M1407.6,941.6v-3M1419.8,941.6v-5.5M1432.0,941.6v-3M1444.2,941.6v-5.5M1456.5,941.6v-3M1468.7,941.6v-5.5M1480.9,941.6v-3M1493.2,941.6v-5.5M1505.4,941.6v-3" stroke="#8a8a8a" stroke-width="1.5" fill="none"/>
<text x="1307.0" y="938.4" font-size="15" fill="#111" font-family="'Liberation Sans', Arial, sans-serif" text-anchor="end" >0</text>
<text x="1307.0" y="887.4" font-size="15" fill="#111" font-family="'Liberation Sans', Arial, sans-serif" text-anchor="end" >50</text>
<text x="1307.0" y="836.5" font-size="15" fill="#111" font-family="'Liberation Sans', Arial, sans-serif" text-anchor="end" >100</text>
<text x="1307.0" y="785.5" font-size="15" fill="#111" font-family="'Liberation Sans', Arial, sans-serif" text-anchor="end" >150</text>
<text x="1322.0" y="959.7" font-size="14.5" fill="#111" font-family="'Liberation Sans', Arial, sans-serif" text-anchor="middle" >0</text>
<text x="1346.5" y="959.7" font-size="14.5" fill="#111" font-family="'Liberation Sans', Arial, sans-serif" text-anchor="middle" >0.5</text>
<text x="1370.9" y="959.7" font-size="14.5" fill="#111" font-family="'Liberation Sans', Arial, sans-serif" text-anchor="middle" >1</text>
<text x="1395.3" y="959.7" font-size="14.5" fill="#111" font-family="'Liberation Sans', Arial, sans-serif" text-anchor="middle" >1.5</text>
<text x="1419.8" y="959.7" font-size="14.5" fill="#111" font-family="'Liberation Sans', Arial, sans-serif" text-anchor="middle" >2</text>
<text x="1444.2" y="959.7" font-size="14.5" fill="#111" font-family="'Liberation Sans', Arial, sans-serif" text-anchor="middle" >2.5</text>
<text x="1468.7" y="959.7" font-size="14.5" fill="#111" font-family="'Liberation Sans', Arial, sans-serif" text-anchor="middle" >3</text>
<text x="1493.2" y="959.7" font-size="14.5" fill="#111" font-family="'Liberation Sans', Arial, sans-serif" text-anchor="middle" >3.5</text>
<rect x="1310.0" y="701.0" width="33.6" height="33.0" fill="none" stroke="#777" stroke-width="1.4"/>
<path d="M1310.0,701.0L1343.6,734.0M1343.6,701.0L1310.0,734.0" stroke="#8a8a8a" stroke-width="1" fill="none"/>
<rect x="1495.7" y="701.0" width="33.2" height="33.0" fill="none" stroke="#777" stroke-width="1.4"/>
<path d="M1495.7,701.0L1528.9,734.0M1528.9,701.0L1495.7,734.0" stroke="#8a8a8a" stroke-width="1" fill="none"/>
<path d="M1326,734V941.6M1512,734V941.6" stroke="#888" stroke-width="1.4" fill="none"/>
<polyline points="1322.0,932.6 1323.6,916.2 1325.2,898.2 1326.6,889.2 1329.3,901.5 1332.6,910.5 1338.4,912.1 1343.3,903.1 1348.2,886.7 1353.1,862.1 1356.7,847.4 1359.7,849.0 1364.6,868.7 1369.5,876.9 1374.4,879.3 1382.6,875.2 1390.8,867.0 1399.0,860.5 1405.6,857.2 1413.8,852.3 1420.3,844.1 1430.2,834.3 1436.7,829.3 1446.6,821.1 1453.1,813.0 1463.0,804.8 1471.1,796.6 1476.1,788.4 1485.9,772.0 1499.0,760.5 1505.6,751.5 1512.1,744.9" fill="none" stroke="#7cc274" stroke-width="1.2" stroke-linejoin="round"/>
<text x="1272.5" y="824.0" font-size="16.3" fill="#111" font-family="'Liberation Sans', Arial, sans-serif" text-anchor="middle" transform="rotate(-90 1272.5 824.0)" >Z (nm)</text>
<text x="1409.7" y="981.8" font-size="16.3" fill="#111" font-family="'Liberation Sans', Arial, sans-serif" text-anchor="middle" >X (µm)</text>
<text x="1406.4" y="755.6" font-size="22.2" fill="#000" font-family="'Liberation Sans', Arial, sans-serif" text-anchor="middle" >Profile 1</text>
<polygon points="1421.9,896.5 1466.6,851.9 1472.8,858.1 1472.8,832.6 1447.3,832.6 1453.5,838.8 1408.9,883.5" fill="url(#gOr)" filter="url(#ashadow)"/>
<line x1="1599.9" y1="942.5" x2="1813.8" y2="942.5" stroke="#999" stroke-width="1.3" stroke-dasharray="2,3"/>
<line x1="1611.3" y1="951.5" x2="1611.3" y2="737.5" stroke="#999" stroke-width="1.2" stroke-dasharray="2,3"/>
<path d="M1599.9,737.5V951.5H1813.8" stroke="#8a8a8a" stroke-width="1.6" fill="none"/>
<path d="M1599.9,942.5h4.5M1599.9,921.8h2.8M1599.9,901.1h4.5M1599.9,880.4h2.8M1599.9,859.7h4.5M1599.9,839.0h2.8M1599.9,818.3h4.5M1599.9,797.6h2.8M1599.9,776.9h4.5M1599.9,756.2h2.8M1611.3,951.5v-5.5M1624.2,951.5v-3M1637.0,951.5v-5.5M1649.9,951.5v-3M1662.8,951.5v-5.5M1675.7,951.5v-3M1688.5,951.5v-5.5M1701.4,951.5v-3M1714.3,951.5v-5.5M1727.2,951.5v-3M1740.0,951.5v-5.5M1752.9,951.5v-3M1765.8,951.5v-5.5M1778.7,951.5v-3M1791.5,951.5v-5.5M1804.4,951.5v-3" stroke="#8a8a8a" stroke-width="1.5" fill="none"/>
<text x="1596.4" y="947.5" font-size="15" fill="#111" font-family="'Liberation Sans', Arial, sans-serif" text-anchor="end" >0</text>
<text x="1596.4" y="906.1" font-size="15" fill="#111" font-family="'Liberation Sans', Arial, sans-serif" text-anchor="end" >20</text>
<text x="1596.4" y="864.7" font-size="15" fill="#111" font-family="'Liberation Sans', Arial, sans-serif" text-anchor="end" >40</text>
<text x="1596.4" y="823.3" font-size="15" fill="#111" font-family="'Liberation Sans', Arial, sans-serif" text-anchor="end" >60</text>
<text x="1596.4" y="781.9" font-size="15" fill="#111" font-family="'Liberation Sans', Arial, sans-serif" text-anchor="end" >80</text>
<text x="1611.3" y="968.7" font-size="14.5" fill="#111" font-family="'Liberation Sans', Arial, sans-serif" text-anchor="middle" >0</text>
<text x="1637.0" y="968.7" font-size="14.5" fill="#111" font-family="'Liberation Sans', Arial, sans-serif" text-anchor="middle" >0.5</text>
<text x="1662.8" y="968.7" font-size="14.5" fill="#111" font-family="'Liberation Sans', Arial, sans-serif" text-anchor="middle" >1</text>
<text x="1688.5" y="968.7" font-size="14.5" fill="#111" font-family="'Liberation Sans', Arial, sans-serif" text-anchor="middle" >1.5</text>
<text x="1714.3" y="968.7" font-size="14.5" fill="#111" font-family="'Liberation Sans', Arial, sans-serif" text-anchor="middle" >2</text>
<text x="1740.0" y="968.7" font-size="14.5" fill="#111" font-family="'Liberation Sans', Arial, sans-serif" text-anchor="middle" >2.5</text>
<text x="1765.8" y="968.7" font-size="14.5" fill="#111" font-family="'Liberation Sans', Arial, sans-serif" text-anchor="middle" >3</text>
<text x="1791.5" y="968.7" font-size="14.5" fill="#111" font-family="'Liberation Sans', Arial, sans-serif" text-anchor="middle" >3.5</text>
<rect x="1596.6" y="703.4" width="34.7" height="34.5" fill="none" stroke="#777" stroke-width="1.4"/>
<path d="M1596.6,703.4L1631.3,737.9M1631.3,703.4L1596.6,737.9" stroke="#8a8a8a" stroke-width="1" fill="none"/>
<rect x="1790.8" y="703.4" width="35.0" height="34.5" fill="none" stroke="#777" stroke-width="1.4"/>
<path d="M1790.8,703.4L1825.8,737.9M1825.8,703.4L1790.8,737.9" stroke="#8a8a8a" stroke-width="1" fill="none"/>
<path d="M1613,737.9V951.5M1808.5,737.9V951.5" stroke="#888" stroke-width="1.4" fill="none"/>
<polyline points="1612.5,790.0 1613.8,778.5 1614.6,776.1 1616.2,785.1 1618.7,808.0 1621.2,821.1 1625.3,824.4 1629.4,826.9 1633.5,821.1 1637.6,801.5 1641.7,768.7 1645.4,749.0 1648.2,755.6 1652.3,788.4 1657.2,814.6 1662.1,837.5 1667.1,853.9 1673.6,863.8 1678.5,867.0 1685.1,870.3 1690.8,871.1 1694.9,875.2 1703.1,881.8 1711.3,886.7 1719.5,891.6 1727.7,901.5 1735.9,909.7 1744.1,914.6 1752.3,922.8 1760.5,929.3 1767.1,932.6 1773.6,930.2 1780.2,930.2 1786.7,935.1 1794.9,941.6 1801.5,940.8 1808.0,940.8" fill="none" stroke="#7cc274" stroke-width="1.2" stroke-linejoin="round"/>
<text x="1566.8" y="833.4" font-size="16.3" fill="#111" font-family="'Liberation Sans', Arial, sans-serif" text-anchor="middle" transform="rotate(-90 1566.8 833.4)" >Z (nm)</text>
<text x="1702.6" y="991.7" font-size="16.3" fill="#111" font-family="'Liberation Sans', Arial, sans-serif" text-anchor="middle" >X (µm)</text>
<text x="1714.1" y="755.6" font-size="22.2" fill="#000" font-family="'Liberation Sans', Arial, sans-serif" text-anchor="middle" >Profile 1</text>
<polygon points="1689.8,852.4 1744.4,883.4 1740.1,891.1 1764.6,884.3 1757.8,859.8 1753.5,867.4 1699.0,836.4" fill="url(#gOr)" filter="url(#ashadow)"/>
<line x1="137.2" y1="1264.3" x2="343" y2="1264.3" stroke="#999" stroke-width="1.3" stroke-dasharray="2,3"/>
<line x1="148.7" y1="1274.1" x2="148.7" y2="1068.4" stroke="#999" stroke-width="1.2" stroke-dasharray="2,3"/>
<path d="M137.2,1068.4V1274.1H343" stroke="#8a8a8a" stroke-width="1.6" fill="none"/>
<path d="M137.2,1264.3h4.5M137.2,1250.6h2.8M137.2,1236.9h4.5M137.2,1223.3h2.8M137.2,1209.6h4.5M137.2,1195.9h2.8M137.2,1182.2h4.5M137.2,1168.6h2.8M137.2,1154.9h4.5M137.2,1141.2h2.8M137.2,1127.5h4.5M137.2,1113.8h2.8M137.2,1100.2h4.5M137.2,1086.5h2.8M137.2,1072.8h4.5M148.7,1274.1v-5.5M161.0,1274.1v-3M173.3,1274.1v-5.5M185.6,1274.1v-3M197.9,1274.1v-5.5M210.2,1274.1v-3M222.5,1274.1v-5.5M234.8,1274.1v-3M247.1,1274.1v-5.5M259.4,1274.1v-3M271.7,1274.1v-5.5M284.0,1274.1v-3M296.3,1274.1v-5.5M308.6,1274.1v-3M320.9,1274.1v-5.5M333.2,1274.1v-3" stroke="#8a8a8a" stroke-width="1.5" fill="none"/>
<text x="133.7" y="1269.3" font-size="15" fill="#111" font-family="'Liberation Sans', Arial, sans-serif" text-anchor="end" >0</text>
<text x="133.7" y="1241.9" font-size="15" fill="#111" font-family="'Liberation Sans', Arial, sans-serif" text-anchor="end" >50</text>
<text x="133.7" y="1214.6" font-size="15" fill="#111" font-family="'Liberation Sans', Arial, sans-serif" text-anchor="end" >100</text>
<text x="133.7" y="1187.2" font-size="15" fill="#111" font-family="'Liberation Sans', Arial, sans-serif" text-anchor="end" >150</text>
<text x="133.7" y="1159.9" font-size="15" fill="#111" font-family="'Liberation Sans', Arial, sans-serif" text-anchor="end" >200</text>
<text x="133.7" y="1132.5" font-size="15" fill="#111" font-family="'Liberation Sans', Arial, sans-serif" text-anchor="end" >250</text>
<text x="133.7" y="1105.2" font-size="15" fill="#111" font-family="'Liberation Sans', Arial, sans-serif" text-anchor="end" >300</text>
<text x="133.7" y="1077.8" font-size="15" fill="#111" font-family="'Liberation Sans', Arial, sans-serif" text-anchor="end" >350</text>
<text x="148.7" y="1291.3" font-size="14.5" fill="#111" font-family="'Liberation Sans', Arial, sans-serif" text-anchor="middle" >0</text>
<text x="173.3" y="1291.3" font-size="14.5" fill="#111" font-family="'Liberation Sans', Arial, sans-serif" text-anchor="middle" >0.5</text>
<text x="197.9" y="1291.3" font-size="14.5" fill="#111" font-family="'Liberation Sans', Arial, sans-serif" text-anchor="middle" >1</text>
<text x="222.5" y="1291.3" font-size="14.5" fill="#111" font-family="'Liberation Sans', Arial, sans-serif" text-anchor="middle" >1.5</text>
<text x="247.1" y="1291.3" font-size="14.5" fill="#111" font-family="'Liberation Sans', Arial, sans-serif" text-anchor="middle" >2</text>
<text x="271.7" y="1291.3" font-size="14.5" fill="#111" font-family="'Liberation Sans', Arial, sans-serif" text-anchor="middle" >2.5</text>
<text x="296.3" y="1291.3" font-size="14.5" fill="#111" font-family="'Liberation Sans', Arial, sans-serif" text-anchor="middle" >3</text>
<text x="320.9" y="1291.3" font-size="14.5" fill="#111" font-family="'Liberation Sans', Arial, sans-serif" text-anchor="middle" >3.5</text>
<rect x="177.4" y="1033.9" width="33.9" height="33.6" fill="none" stroke="#777" stroke-width="1.4"/>
<path d="M177.4,1033.9L211.3,1067.5M211.3,1033.9L177.4,1067.5" stroke="#8a8a8a" stroke-width="1" fill="none"/>
<rect x="315.9" y="1033.9" width="33.6" height="33.6" fill="none" stroke="#777" stroke-width="1.4"/>
<path d="M315.9,1033.9L349.5,1067.5M349.5,1033.9L315.9,1067.5" stroke="#8a8a8a" stroke-width="1" fill="none"/>
<path d="M194.6,1067.5V1274.1M332.6,1067.5V1274.1" stroke="#888" stroke-width="1.4" fill="none"/>
<polyline points="148.7,1264.3 152.0,1262.6 156.9,1253.6 161.8,1251.1 166.7,1247.0 174.9,1243.0 182.3,1233.1 186.4,1221.6 190.5,1208.5 194.6,1201.1 199.5,1210.2 207.7,1215.1 217.5,1206.9 225.7,1198.7 233.9,1192.1 247.0,1183.9 258.5,1174.1 266.7,1167.5 279.8,1157.7 288.0,1147.9 299.5,1134.8 307.7,1124.9 315.9,1116.7 322.5,1105.2 329.0,1092.1 332.8,1078.2 334.8,1083.1 338.0,1087.2" fill="none" stroke="#7cc274" stroke-width="1.2" stroke-linejoin="round"/>
<text x="98.4" y="1158.0" font-size="16.3" fill="#111" font-family="'Liberation Sans', Arial, sans-serif" text-anchor="middle" transform="rotate(-90 98.4 1158.0)" >Z (nm)</text>
<text x="240.0" y="1314.3" font-size="16.3" fill="#111" font-family="'Liberation Sans', Arial, sans-serif" text-anchor="middle" >X (µm)</text>
<text x="244.9" y="1092.1" font-size="22.2" fill="#000" font-family="'Liberation Sans', Arial, sans-serif" text-anchor="middle" >Profile 2</text>
<polygon points="212.5,1259.8 260.0,1218.3 265.8,1224.9 267.5,1199.5 242.1,1197.8 247.9,1204.4 200.3,1245.8" fill="url(#gOr)" filter="url(#ashadow)"/>
<line x1="423.9" y1="1270.8" x2="635.4" y2="1270.8" stroke="#999" stroke-width="1.3" stroke-dasharray="2,3"/>
<line x1="435.7" y1="1279.8" x2="435.7" y2="1068.4" stroke="#999" stroke-width="1.2" stroke-dasharray="2,3"/>
<path d="M423.9,1068.4V1279.8H635.4" stroke="#8a8a8a" stroke-width="1.6" fill="none"/>
<path d="M423.9,1270.8h4.5M423.9,1259.1h2.8M423.9,1247.3h4.5M423.9,1235.6h2.8M423.9,1223.9h4.5M423.9,1212.1h2.8M423.9,1200.4h4.5M423.9,1188.7h2.8M423.9,1177.0h4.5M423.9,1165.2h2.8M423.9,1153.5h4.5M423.9,1141.8h2.8M423.9,1130.0h4.5M423.9,1118.3h2.8M423.9,1106.6h4.5M423.9,1094.8h2.8M423.9,1083.1h4.5M423.9,1071.4h2.8M435.4,1279.8v-5.5M447.2,1279.8v-3M459.1,1279.8v-5.5M470.9,1279.8v-3M482.8,1279.8v-5.5M494.6,1279.8v-3M506.4,1279.8v-5.5M518.3,1279.8v-3M530.1,1279.8v-5.5M541.9,1279.8v-3M553.8,1279.8v-5.5M565.6,1279.8v-3M577.5,1279.8v-5.5M589.3,1279.8v-3M601.1,1279.8v-5.5M613.0,1279.8v-3M624.8,1279.8v-5.5" stroke="#8a8a8a" stroke-width="1.5" fill="none"/>
<text x="420.4" y="1275.8" font-size="15" fill="#111" font-family="'Liberation Sans', Arial, sans-serif" text-anchor="end" >0</text>
<text x="420.4" y="1252.3" font-size="15" fill="#111" font-family="'Liberation Sans', Arial, sans-serif" text-anchor="end" >20</text>
<text x="420.4" y="1228.9" font-size="15" fill="#111" font-family="'Liberation Sans', Arial, sans-serif" text-anchor="end" >40</text>
<text x="420.4" y="1205.4" font-size="15" fill="#111" font-family="'Liberation Sans', Arial, sans-serif" text-anchor="end" >60</text>
<text x="420.4" y="1182.0" font-size="15" fill="#111" font-family="'Liberation Sans', Arial, sans-serif" text-anchor="end" >80</text>
<text x="420.4" y="1158.5" font-size="15" fill="#111" font-family="'Liberation Sans', Arial, sans-serif" text-anchor="end" >100</text>
<text x="420.4" y="1135.0" font-size="15" fill="#111" font-family="'Liberation Sans', Arial, sans-serif" text-anchor="end" >120</text>
<text x="420.4" y="1111.6" font-size="15" fill="#111" font-family="'Liberation Sans', Arial, sans-serif" text-anchor="end" >140</text>
<text x="420.4" y="1088.1" font-size="15" fill="#111" font-family="'Liberation Sans', Arial, sans-serif" text-anchor="end" >160</text>
<text x="435.4" y="1296.2" font-size="14.5" fill="#111" font-family="'Liberation Sans', Arial, sans-serif" text-anchor="middle" >0</text>
<text x="459.1" y="1296.2" font-size="14.5" fill="#111" font-family="'Liberation Sans', Arial, sans-serif" text-anchor="middle" >0.5</text>
<text x="482.8" y="1296.2" font-size="14.5" fill="#111" font-family="'Liberation Sans', Arial, sans-serif" text-anchor="middle" >1</text>
<text x="506.4" y="1296.2" font-size="14.5" fill="#111" font-family="'Liberation Sans', Arial, sans-serif" text-anchor="middle" >1.5</text>
<text x="530.1" y="1296.2" font-size="14.5" fill="#111" font-family="'Liberation Sans', Arial, sans-serif" text-anchor="middle" >2</text>
<text x="553.8" y="1296.2" font-size="14.5" fill="#111" font-family="'Liberation Sans', Arial, sans-serif" text-anchor="middle" >2.5</text>
<text x="577.5" y="1296.2" font-size="14.5" fill="#111" font-family="'Liberation Sans', Arial, sans-serif" text-anchor="middle" >3</text>
<text x="601.1" y="1296.2" font-size="14.5" fill="#111" font-family="'Liberation Sans', Arial, sans-serif" text-anchor="middle" >3.5</text>
<text x="624.8" y="1296.2" font-size="14.5" fill="#111" font-family="'Liberation Sans', Arial, sans-serif" text-anchor="middle" >4</text>
<rect x="467.4" y="1032.8" width="34.9" height="34.7" fill="none" stroke="#777" stroke-width="1.4"/>
<path d="M467.4,1032.8L502.3,1067.5M502.3,1032.8L467.4,1067.5" stroke="#8a8a8a" stroke-width="1" fill="none"/>
<rect x="610.5" y="1032.8" width="35.1" height="34.7" fill="none" stroke="#777" stroke-width="1.4"/>
<path d="M610.5,1032.8L645.6,1067.5M645.6,1032.8L610.5,1067.5" stroke="#8a8a8a" stroke-width="1" fill="none"/>
<path d="M484.9,1067.5V1279.8M628,1067.5V1279.8" stroke="#888" stroke-width="1.4" fill="none"/>
<polyline points="435.7,1270.0 437.9,1259.3 439.5,1260.2 442.0,1265.9 445.2,1261.8 449.3,1256.1 453.4,1258.5 458.4,1264.3 461.6,1265.1 466.6,1261.0 469.8,1256.9 473.1,1260.2 476.4,1255.2 480.5,1233.1 484.9,1210.2 489.5,1223.3 494.4,1244.6 499.3,1252.8 503.4,1254.4 509.2,1250.3 514.1,1247.9 520.7,1247.0 528.9,1243.0 537.0,1236.4 545.2,1229.8 553.4,1224.1 561.6,1220.8 569.8,1210.2 578.0,1198.7 589.5,1185.6 597.7,1167.5 605.9,1151.1 614.1,1134.8 622.3,1111.8 626.4,1093.8 627.7,1079.0 628.9,1090.5 630.5,1096.2" fill="none" stroke="#7cc274" stroke-width="1.2" stroke-linejoin="round"/>
<text x="387.6" y="1158.0" font-size="16.3" fill="#111" font-family="'Liberation Sans', Arial, sans-serif" text-anchor="middle" transform="rotate(-90 387.6 1158.0)" >Z (nm)</text>
<text x="526.4" y="1321.7" font-size="16.3" fill="#111" font-family="'Liberation Sans', Arial, sans-serif" text-anchor="middle" >X (µm)</text>
<text x="542.3" y="1092.1" font-size="22.2" fill="#000" font-family="'Liberation Sans', Arial, sans-serif" text-anchor="middle" >Profile 2</text>
<polygon points="541.2,1267.3 595.7,1236.2 600.0,1243.8 606.7,1219.2 582.1,1212.5 586.5,1220.1 532.0,1251.3" fill="url(#gOr)" filter="url(#ashadow)"/>
<line x1="723.4" y1="1270" x2="935.2" y2="1270" stroke="#999" stroke-width="1.3" stroke-dasharray="2,3"/>
<line x1="734.9" y1="1279" x2="734.9" y2="1067.9" stroke="#999" stroke-width="1.2" stroke-dasharray="2,3"/>
<path d="M723.4,1067.9V1279H935.2" stroke="#8a8a8a" stroke-width="1.6" fill="none"/>
<path d="M723.4,1270.0h4.5M723.4,1254.0h2.8M723.4,1238.0h4.5M723.4,1222.1h2.8M723.4,1206.1h4.5M723.4,1190.1h2.8M723.4,1174.1h4.5M723.4,1158.1h2.8M723.4,1142.1h4.5M723.4,1126.2h2.8M723.4,1110.2h4.5M723.4,1094.2h2.8M723.4,1078.2h4.5M734.4,1279v-5.5M747.3,1279v-3M760.1,1279v-5.5M773.0,1279v-3M785.9,1279v-5.5M798.8,1279v-3M811.6,1279v-5.5M824.5,1279v-3M837.4,1279v-5.5M850.3,1279v-3M863.1,1279v-5.5M876.0,1279v-3M888.9,1279v-5.5M901.8,1279v-3M914.6,1279v-5.5M927.5,1279v-3" stroke="#8a8a8a" stroke-width="1.5" fill="none"/>
<text x="719.9" y="1275.0" font-size="15" fill="#111" font-family="'Liberation Sans', Arial, sans-serif" text-anchor="end" >0</text>
<text x="719.9" y="1243.0" font-size="15" fill="#111" font-family="'Liberation Sans', Arial, sans-serif" text-anchor="end" >50</text>
<text x="719.9" y="1211.1" font-size="15" fill="#111" font-family="'Liberation Sans', Arial, sans-serif" text-anchor="end" >100</text>
<text x="719.9" y="1179.1" font-size="15" fill="#111" font-family="'Liberation Sans', Arial, sans-serif" text-anchor="end" >150</text>
<text x="719.9" y="1147.1" font-size="15" fill="#111" font-family="'Liberation Sans', Arial, sans-serif" text-anchor="end" >200</text>
<text x="719.9" y="1115.2" font-size="15" fill="#111" font-family="'Liberation Sans', Arial, sans-serif" text-anchor="end" >250</text>
<text x="719.9" y="1083.2" font-size="15" fill="#111" font-family="'Liberation Sans', Arial, sans-serif" text-anchor="end" >300</text>
<text x="734.4" y="1295.4" font-size="14.5" fill="#111" font-family="'Liberation Sans', Arial, sans-serif" text-anchor="middle" >0</text>
<text x="760.1" y="1295.4" font-size="14.5" fill="#111" font-family="'Liberation Sans', Arial, sans-serif" text-anchor="middle" >0.5</text>
<text x="785.9" y="1295.4" font-size="14.5" fill="#111" font-family="'Liberation Sans', Arial, sans-serif" text-anchor="middle" >1</text>
<text x="811.6" y="1295.4" font-size="14.5" fill="#111" font-family="'Liberation Sans', Arial, sans-serif" text-anchor="middle" >1.5</text>
<text x="837.4" y="1295.4" font-size="14.5" fill="#111" font-family="'Liberation Sans', Arial, sans-serif" text-anchor="middle" >2</text>
<text x="863.1" y="1295.4" font-size="14.5" fill="#111" font-family="'Liberation Sans', Arial, sans-serif" text-anchor="middle" >2.5</text>
<text x="888.9" y="1295.4" font-size="14.5" fill="#111" font-family="'Liberation Sans', Arial, sans-serif" text-anchor="middle" >3</text>
<text x="914.6" y="1295.4" font-size="14.5" fill="#111" font-family="'Liberation Sans', Arial, sans-serif" text-anchor="middle" >3.5</text>
<rect x="766.4" y="1032.3" width="34.4" height="34.4" fill="none" stroke="#777" stroke-width="1.4"/>
<path d="M766.4,1032.3L800.8,1066.7M800.8,1032.3L766.4,1066.7" stroke="#8a8a8a" stroke-width="1" fill="none"/>
<rect x="907.4" y="1032.3" width="35.2" height="34.4" fill="none" stroke="#777" stroke-width="1.4"/>
<path d="M907.4,1032.3L942.6,1066.7M942.6,1032.3L907.4,1066.7" stroke="#8a8a8a" stroke-width="1" fill="none"/>
<path d="M783.6,1066.7V1279M924.6,1066.7V1279" stroke="#888" stroke-width="1.4" fill="none"/>
<polyline points="734.9,1269.2 736.9,1267.5 740.2,1270.0 743.4,1262.6 748.4,1256.1 754.9,1253.6 761.5,1251.1 766.4,1244.6 772.1,1242.1 776.2,1228.2 783.6,1206.9 787.7,1213.4 794.3,1220.8 800.8,1220.8 807.4,1216.7 815.6,1210.2 823.8,1202.0 832.0,1195.4 841.8,1188.9 850.0,1180.7 858.2,1174.1 868.0,1164.3 876.2,1156.1 886.1,1144.6 895.9,1133.1 905.7,1123.3 913.9,1113.4 920.5,1102.0 923.4,1092.1 924.6,1077.4 927.0,1084.8 929.5,1088.9" fill="none" stroke="#7cc274" stroke-width="1.2" stroke-linejoin="round"/>
<text x="683.3" y="1158.0" font-size="16.3" fill="#111" font-family="'Liberation Sans', Arial, sans-serif" text-anchor="middle" transform="rotate(-90 683.3 1158.0)" >Z (nm)</text>
<text x="825.7" y="1320.8" font-size="16.3" fill="#111" font-family="'Liberation Sans', Arial, sans-serif" text-anchor="middle" >X (µm)</text>
<text x="845.4" y="1092.1" font-size="22.2" fill="#000" font-family="'Liberation Sans', Arial, sans-serif" text-anchor="middle" >Profile 2</text>
<polygon points="813.8,1259.7 860.6,1218.4 866.4,1224.9 868.0,1199.5 842.6,1197.9 848.4,1204.5 801.6,1245.9" fill="url(#gOr)" filter="url(#ashadow)"/>
<line x1="1013.9" y1="1273.3" x2="1227.8" y2="1273.3" stroke="#999" stroke-width="1.3" stroke-dasharray="2,3"/>
<line x1="1025.3" y1="1282.3" x2="1025.3" y2="1068.4" stroke="#999" stroke-width="1.2" stroke-dasharray="2,3"/>
<path d="M1013.9,1068.4V1282.3H1227.8" stroke="#8a8a8a" stroke-width="1.6" fill="none"/>
<path d="M1013.9,1273.3h4.5M1013.9,1257.3h2.8M1013.9,1241.3h4.5M1013.9,1225.4h2.8M1013.9,1209.4h4.5M1013.9,1193.4h2.8M1013.9,1177.4h4.5M1013.9,1161.4h2.8M1013.9,1145.5h4.5M1013.9,1129.5h2.8M1013.9,1113.5h4.5M1013.9,1097.5h2.8M1013.9,1081.5h4.5M1024.8,1282.3v-5.5M1037.6,1282.3v-3M1050.4,1282.3v-5.5M1063.2,1282.3v-3M1076.0,1282.3v-5.5M1088.8,1282.3v-3M1101.6,1282.3v-5.5M1114.4,1282.3v-3M1127.2,1282.3v-5.5M1140.0,1282.3v-3M1152.8,1282.3v-5.5M1165.6,1282.3v-3M1178.4,1282.3v-5.5M1191.2,1282.3v-3M1204.0,1282.3v-5.5M1216.8,1282.3v-3" stroke="#8a8a8a" stroke-width="1.5" fill="none"/>
<text x="1010.4" y="1278.3" font-size="15" fill="#111" font-family="'Liberation Sans', Arial, sans-serif" text-anchor="end" >0</text>
<text x="1010.4" y="1246.3" font-size="15" fill="#111" font-family="'Liberation Sans', Arial, sans-serif" text-anchor="end" >20</text>
<text x="1010.4" y="1214.4" font-size="15" fill="#111" font-family="'Liberation Sans', Arial, sans-serif" text-anchor="end" >40</text>
<text x="1010.4" y="1182.4" font-size="15" fill="#111" font-family="'Liberation Sans', Arial, sans-serif" text-anchor="end" >60</text>
<text x="1010.4" y="1150.5" font-size="15" fill="#111" font-family="'Liberation Sans', Arial, sans-serif" text-anchor="end" >80</text>
<text x="1010.4" y="1118.5" font-size="15" fill="#111" font-family="'Liberation Sans', Arial, sans-serif" text-anchor="end" >100</text>
<text x="1010.4" y="1086.5" font-size="15" fill="#111" font-family="'Liberation Sans', Arial, sans-serif" text-anchor="end" >120</text>
<text x="1024.8" y="1297.9" font-size="14.5" fill="#111" font-family="'Liberation Sans', Arial, sans-serif" text-anchor="middle" >0</text>
<text x="1050.4" y="1297.9" font-size="14.5" fill="#111" font-family="'Liberation Sans', Arial, sans-serif" text-anchor="middle" >0.5</text>
<text x="1076.0" y="1297.9" font-size="14.5" fill="#111" font-family="'Liberation Sans', Arial, sans-serif" text-anchor="middle" >1</text>
<text x="1101.6" y="1297.9" font-size="14.5" fill="#111" font-family="'Liberation Sans', Arial, sans-serif" text-anchor="middle" >1.5</text>
<text x="1127.2" y="1297.9" font-size="14.5" fill="#111" font-family="'Liberation Sans', Arial, sans-serif" text-anchor="middle" >2</text>
<text x="1152.8" y="1297.9" font-size="14.5" fill="#111" font-family="'Liberation Sans', Arial, sans-serif" text-anchor="middle" >2.5</text>
<text x="1178.4" y="1297.9" font-size="14.5" fill="#111" font-family="'Liberation Sans', Arial, sans-serif" text-anchor="middle" >3</text>
<text x="1204.0" y="1297.9" font-size="14.5" fill="#111" font-family="'Liberation Sans', Arial, sans-serif" text-anchor="middle" >3.5</text>
<rect x="1055.2" y="1032.8" width="34.9" height="34.7" fill="none" stroke="#777" stroke-width="1.4"/>
<path d="M1055.2,1032.8L1090.1,1067.5M1090.1,1032.8L1055.2,1067.5" stroke="#8a8a8a" stroke-width="1" fill="none"/>
<rect x="1201.6" y="1032.8" width="35.2" height="34.7" fill="none" stroke="#777" stroke-width="1.4"/>
<path d="M1201.6,1032.8L1236.8,1067.5M1236.8,1032.8L1201.6,1067.5" stroke="#8a8a8a" stroke-width="1" fill="none"/>
<path d="M1072.5,1067.5V1282.3M1218.8,1067.5V1282.3" stroke="#888" stroke-width="1.4" fill="none"/>
<polyline points="1025.3,1256.1 1027.0,1264.3 1029.4,1267.5 1033.5,1264.3 1037.6,1259.3 1041.7,1262.6 1045.8,1268.4 1050.7,1270.8 1054.0,1267.5 1056.5,1265.1 1059.8,1268.4 1063.0,1265.9 1066.3,1249.5 1069.6,1224.9 1072.5,1208.5 1075.3,1216.7 1078.6,1236.4 1084.3,1261.0 1089.3,1268.4 1094.2,1272.5 1100.7,1272.5 1107.3,1272.5 1112.2,1267.5 1118.8,1261.0 1125.3,1254.4 1133.5,1249.5 1140.1,1244.6 1146.6,1238.0 1153.2,1229.0 1161.4,1221.6 1169.6,1215.1 1176.1,1206.9 1184.3,1195.4 1192.5,1174.1 1200.7,1164.3 1208.9,1146.2 1215.5,1121.6 1218.0,1098.7 1218.8,1081.5 1221.2,1097.0 1223.4,1110.2" fill="none" stroke="#7cc274" stroke-width="1.2" stroke-linejoin="round"/>
<text x="981.6" y="1158.0" font-size="16.3" fill="#111" font-family="'Liberation Sans', Arial, sans-serif" text-anchor="middle" transform="rotate(-90 981.6 1158.0)" >Z (nm)</text>
<text x="1116.3" y="1322.5" font-size="16.3" fill="#111" font-family="'Liberation Sans', Arial, sans-serif" text-anchor="middle" >X (µm)</text>
<text x="1141.7" y="1092.1" font-size="22.2" fill="#000" font-family="'Liberation Sans', Arial, sans-serif" text-anchor="middle" >Profile 2</text>
<polygon points="1151.6,1267.3 1206.1,1236.2 1210.4,1243.8 1217.1,1219.2 1192.5,1212.5 1196.9,1220.1 1142.4,1251.3" fill="url(#gOr)" filter="url(#ashadow)"/>
<line x1="1313.4" y1="1265.9" x2="1526" y2="1265.9" stroke="#999" stroke-width="1.3" stroke-dasharray="2,3"/>
<line x1="1325.2" y1="1274.9" x2="1325.2" y2="1066.7" stroke="#999" stroke-width="1.2" stroke-dasharray="2,3"/>
<path d="M1313.4,1066.7V1274.9H1526" stroke="#8a8a8a" stroke-width="1.6" fill="none"/>
<path d="M1313.4,1265.9h4.5M1313.4,1252.1h2.8M1313.4,1238.4h4.5M1313.4,1224.6h2.8M1313.4,1210.9h4.5M1313.4,1197.1h2.8M1313.4,1183.4h4.5M1313.4,1169.6h2.8M1313.4,1155.8h4.5M1313.4,1142.1h2.8M1313.4,1128.3h4.5M1313.4,1114.6h2.8M1313.4,1100.8h4.5M1313.4,1087.1h2.8M1313.4,1073.3h4.5M1324.4,1274.9v-5.5M1336.7,1274.9v-3M1348.9,1274.9v-5.5M1361.2,1274.9v-3M1373.4,1274.9v-5.5M1385.7,1274.9v-3M1397.9,1274.9v-5.5M1410.2,1274.9v-3M1422.4,1274.9v-5.5M1434.7,1274.9v-3M1446.9,1274.9v-5.5M1459.2,1274.9v-3M1471.4,1274.9v-5.5M1483.7,1274.9v-3M1495.9,1274.9v-5.5M1508.2,1274.9v-3M1520.4,1274.9v-5.5" stroke="#8a8a8a" stroke-width="1.5" fill="none"/>
<text x="1309.9" y="1270.9" font-size="15" fill="#111" font-family="'Liberation Sans', Arial, sans-serif" text-anchor="end" >0</text>
<text x="1309.9" y="1243.4" font-size="15" fill="#111" font-family="'Liberation Sans', Arial, sans-serif" text-anchor="end" >50</text>
<text x="1309.9" y="1215.9" font-size="15" fill="#111" font-family="'Liberation Sans', Arial, sans-serif" text-anchor="end" >100</text>
<text x="1309.9" y="1188.4" font-size="15" fill="#111" font-family="'Liberation Sans', Arial, sans-serif" text-anchor="end" >150</text>
<text x="1309.9" y="1160.8" font-size="15" fill="#111" font-family="'Liberation Sans', Arial, sans-serif" text-anchor="end" >200</text>
<text x="1309.9" y="1133.3" font-size="15" fill="#111" font-family="'Liberation Sans', Arial, sans-serif" text-anchor="end" >250</text>
<text x="1309.9" y="1105.8" font-size="15" fill="#111" font-family="'Liberation Sans', Arial, sans-serif" text-anchor="end" >300</text>
<text x="1309.9" y="1078.3" font-size="15" fill="#111" font-family="'Liberation Sans', Arial, sans-serif" text-anchor="end" >350</text>
<text x="1324.4" y="1292.1" font-size="14.5" fill="#111" font-family="'Liberation Sans', Arial, sans-serif" text-anchor="middle" >0</text>
<text x="1348.9" y="1292.1" font-size="14.5" fill="#111" font-family="'Liberation Sans', Arial, sans-serif" text-anchor="middle" >0.5</text>
<text x="1373.4" y="1292.1" font-size="14.5" fill="#111" font-family="'Liberation Sans', Arial, sans-serif" text-anchor="middle" >1</text>
<text x="1397.9" y="1292.1" font-size="14.5" fill="#111" font-family="'Liberation Sans', Arial, sans-serif" text-anchor="middle" >1.5</text>
<text x="1422.4" y="1292.1" font-size="14.5" fill="#111" font-family="'Liberation Sans', Arial, sans-serif" text-anchor="middle" >2</text>
<text x="1446.9" y="1292.1" font-size="14.5" fill="#111" font-family="'Liberation Sans', Arial, sans-serif" text-anchor="middle" >2.5</text>
<text x="1471.4" y="1292.1" font-size="14.5" fill="#111" font-family="'Liberation Sans', Arial, sans-serif" text-anchor="middle" >3</text>
<text x="1495.9" y="1292.1" font-size="14.5" fill="#111" font-family="'Liberation Sans', Arial, sans-serif" text-anchor="middle" >3.5</text>
<text x="1520.4" y="1292.1" font-size="14.5" fill="#111" font-family="'Liberation Sans', Arial, sans-serif" text-anchor="middle" >4</text>
<rect x="1356.7" y="1031.5" width="34.4" height="34.4" fill="none" stroke="#777" stroke-width="1.4"/>
<path d="M1356.7,1031.5L1391.1,1065.9M1391.1,1031.5L1356.7,1065.9" stroke="#8a8a8a" stroke-width="1" fill="none"/>
<rect x="1495.4" y="1031.5" width="33.9" height="34.4" fill="none" stroke="#777" stroke-width="1.4"/>
<path d="M1495.4,1031.5L1529.3,1065.9M1529.3,1031.5L1495.4,1065.9" stroke="#8a8a8a" stroke-width="1" fill="none"/>
<path d="M1374.1,1065.9V1274.9M1512.5,1065.9V1274.9" stroke="#888" stroke-width="1.4" fill="none"/>
<polyline points="1325.2,1265.9 1328.5,1262.6 1335.1,1256.1 1340.0,1249.5 1344.9,1247.0 1351.5,1243.0 1358.0,1238.0 1364.6,1231.5 1369.5,1216.7 1373.6,1203.6 1379.3,1211.8 1387.5,1216.7 1394.1,1214.3 1400.7,1210.2 1408.9,1202.0 1418.7,1190.5 1425.2,1184.8 1433.4,1179.0 1441.6,1170.8 1449.8,1162.6 1458.0,1156.1 1466.2,1149.5 1474.4,1139.7 1482.6,1129.8 1490.8,1121.6 1497.4,1113.4 1503.9,1102.0 1509.7,1088.9 1512.1,1075.7 1514.6,1082.3 1517.0,1087.2" fill="none" stroke="#7cc274" stroke-width="1.2" stroke-linejoin="round"/>
<text x="1270.9" y="1156.4" font-size="16.3" fill="#111" font-family="'Liberation Sans', Arial, sans-serif" text-anchor="middle" transform="rotate(-90 1270.9 1156.4)" >Z (nm)</text>
<text x="1414.1" y="1313.5" font-size="16.3" fill="#111" font-family="'Liberation Sans', Arial, sans-serif" text-anchor="middle" >X (µm)</text>
<text x="1431.8" y="1092.1" font-size="22.2" fill="#000" font-family="'Liberation Sans', Arial, sans-serif" text-anchor="middle" >Profile 2</text>
<polygon points="1393.3,1259.8 1440.7,1218.3 1446.5,1224.9 1448.2,1199.5 1422.8,1197.8 1428.6,1204.4 1381.1,1245.8" fill="url(#gOr)" filter="url(#ashadow)"/>
<line x1="1605.1" y1="1270.8" x2="1815.4" y2="1270.8" stroke="#999" stroke-width="1.3" stroke-dasharray="2,3"/>
<line x1="1616.6" y1="1279.8" x2="1616.6" y2="1068.4" stroke="#999" stroke-width="1.2" stroke-dasharray="2,3"/>
<path d="M1605.1,1068.4V1279.8H1815.4" stroke="#8a8a8a" stroke-width="1.6" fill="none"/>
<path d="M1605.1,1270.8h4.5M1605.1,1255.5h2.8M1605.1,1240.1h4.5M1605.1,1224.8h2.8M1605.1,1209.5h4.5M1605.1,1194.2h2.8M1605.1,1178.8h4.5M1605.1,1163.5h2.8M1605.1,1148.2h4.5M1605.1,1132.9h2.8M1605.1,1117.5h4.5M1605.1,1102.2h2.8M1605.1,1086.9h4.5M1605.1,1071.6h2.8M1615.9,1279.8v-5.5M1628.8,1279.8v-3M1641.6,1279.8v-5.5M1654.5,1279.8v-3M1667.3,1279.8v-5.5M1680.2,1279.8v-3M1693.0,1279.8v-5.5M1705.9,1279.8v-3M1718.7,1279.8v-5.5M1731.6,1279.8v-3M1744.4,1279.8v-5.5M1757.2,1279.8v-3M1770.1,1279.8v-5.5M1783.0,1279.8v-3M1795.8,1279.8v-5.5M1808.7,1279.8v-3" stroke="#8a8a8a" stroke-width="1.5" fill="none"/>
<text x="1601.6" y="1275.8" font-size="15" fill="#111" font-family="'Liberation Sans', Arial, sans-serif" text-anchor="end" >0</text>
<text x="1601.6" y="1245.1" font-size="15" fill="#111" font-family="'Liberation Sans', Arial, sans-serif" text-anchor="end" >20</text>
<text x="1601.6" y="1214.5" font-size="15" fill="#111" font-family="'Liberation Sans', Arial, sans-serif" text-anchor="end" >40</text>
<text x="1601.6" y="1183.8" font-size="15" fill="#111" font-family="'Liberation Sans', Arial, sans-serif" text-anchor="end" >60</text>
<text x="1601.6" y="1153.2" font-size="15" fill="#111" font-family="'Liberation Sans', Arial, sans-serif" text-anchor="end" >80</text>
<text x="1601.6" y="1122.5" font-size="15" fill="#111" font-family="'Liberation Sans', Arial, sans-serif" text-anchor="end" >100</text>
<text x="1601.6" y="1091.9" font-size="15" fill="#111" font-family="'Liberation Sans', Arial, sans-serif" text-anchor="end" >120</text>
<text x="1615.9" y="1296.2" font-size="14.5" fill="#111" font-family="'Liberation Sans', Arial, sans-serif" text-anchor="middle" >0</text>
<text x="1641.6" y="1296.2" font-size="14.5" fill="#111" font-family="'Liberation Sans', Arial, sans-serif" text-anchor="middle" >0.5</text>
<text x="1667.3" y="1296.2" font-size="14.5" fill="#111" font-family="'Liberation Sans', Arial, sans-serif" text-anchor="middle" >1</text>
<text x="1693.0" y="1296.2" font-size="14.5" fill="#111" font-family="'Liberation Sans', Arial, sans-serif" text-anchor="middle" >1.5</text>
<text x="1718.7" y="1296.2" font-size="14.5" fill="#111" font-family="'Liberation Sans', Arial, sans-serif" text-anchor="middle" >2</text>
<text x="1744.4" y="1296.2" font-size="14.5" fill="#111" font-family="'Liberation Sans', Arial, sans-serif" text-anchor="middle" >2.5</text>
<text x="1770.1" y="1296.2" font-size="14.5" fill="#111" font-family="'Liberation Sans', Arial, sans-serif" text-anchor="middle" >3</text>
<text x="1795.8" y="1296.2" font-size="14.5" fill="#111" font-family="'Liberation Sans', Arial, sans-serif" text-anchor="middle" >3.5</text>
<rect x="1645.8" y="1032.8" width="35.2" height="34.7" fill="none" stroke="#777" stroke-width="1.4"/>
<path d="M1645.8,1032.8L1681.0,1067.5M1681.0,1032.8L1645.8,1067.5" stroke="#8a8a8a" stroke-width="1" fill="none"/>
<rect x="1790.0" y="1032.8" width="34.8" height="34.7" fill="none" stroke="#777" stroke-width="1.4"/>
<path d="M1790.0,1032.8L1824.8,1067.5M1824.8,1032.8L1790.0,1067.5" stroke="#8a8a8a" stroke-width="1" fill="none"/>
<path d="M1663.5,1067.5V1279.8M1807.7,1067.5V1279.8" stroke="#888" stroke-width="1.4" fill="none"/>
<polyline points="1616.6,1262.6 1620.3,1270.0 1622.8,1265.9 1627.7,1252.8 1630.2,1252.0 1634.3,1254.4 1638.4,1258.5 1642.5,1254.4 1646.6,1247.9 1650.7,1248.7 1655.6,1234.8 1659.7,1208.5 1663.5,1188.0 1667.1,1203.6 1672.0,1223.3 1676.9,1234.8 1683.5,1239.7 1688.4,1236.4 1694.9,1233.9 1703.1,1228.2 1708.0,1221.6 1714.6,1219.2 1722.8,1215.9 1731.0,1208.5 1740.8,1203.6 1750.7,1197.0 1758.9,1190.5 1765.4,1182.3 1773.6,1172.5 1781.8,1162.6 1790.0,1152.8 1794.9,1143.0 1799.9,1126.6 1803.1,1105.2 1805.6,1090.5 1807.7,1079.8 1808.9,1084.8 1810.5,1092.1" fill="none" stroke="#7cc274" stroke-width="1.2" stroke-linejoin="round"/>
<text x="1569.3" y="1161.3" font-size="16.3" fill="#111" font-family="'Liberation Sans', Arial, sans-serif" text-anchor="middle" transform="rotate(-90 1569.3 1161.3)" >Z (nm)</text>
<text x="1707.6" y="1320.8" font-size="16.3" fill="#111" font-family="'Liberation Sans', Arial, sans-serif" text-anchor="middle" >X (µm)</text>
<text x="1726.9" y="1092.1" font-size="22.2" fill="#000" font-family="'Liberation Sans', Arial, sans-serif" text-anchor="middle" >Profile 2</text>
<polygon points="1699.0,1267.3 1752.8,1236.2 1757.2,1243.8 1763.8,1219.2 1739.2,1212.6 1743.6,1220.2 1689.8,1251.3" fill="url(#gOr)" filter="url(#ashadow)"/>
<polygon points="553.0,1376.0 598.0,1376.0 598.0,1383.4 612.0,1368.4 598.0,1353.4 598.0,1360.8 553.0,1360.8" fill="url(#gBl)" filter="url(#ashadow)"/>
<polygon points="555.3,1404.5 601.0,1404.5 601.0,1411.3 616.0,1396.8 601.0,1382.3 601.0,1389.0 555.3,1389.0" fill="url(#gOr)" filter="url(#ashadow)"/>
<text x="627.2" y="1374.5" font-size="23.2" fill="#1a1a1a" font-family="'Liberation Sans', Arial, sans-serif" textLength="623.8" lengthAdjust="spacingAndGlyphs" >Blue arrows show the location of minima on AFM images</text>
<text x="628.4" y="1405.6" font-size="23.2" fill="#1a1a1a" font-family="'Liberation Sans', Arial, sans-serif" textLength="577.6" lengthAdjust="spacingAndGlyphs" >Orange arrows show the relative direction of profiles</text>
<rect x="1362.4" y="1356.1" width="153.6" height="28.5" fill="url(#gCbar)" stroke="#bbb" stroke-width="0.8"/>
<path d="M1362.4,1341V1356.1M1516,1341V1356.1M1388,1348V1356.1M1413.4,1348V1356.1M1439.2,1348V1356.1M1464.6,1348V1356.1M1490.6,1348V1356.1" stroke="#777" stroke-width="1.2" fill="none"/>
<line x1="1362.4" y1="1356.1" x2="1516" y2="1356.1" stroke="#888" stroke-width="1"/>
<text x="1437.0" y="1349.6" font-size="20.6" fill="#111" font-family="'Liberation Sans', Arial, sans-serif" textLength="75.0" lengthAdjust="spacingAndGlyphs" >500 nm</text>
<text x="109.5" y="1466.5" font-size="40" fill="#000" font-family="'Liberation Sans', Arial, sans-serif" font-weight="bold" >b</text>
<line x1="113" y1="1503.8" x2="1049.5" y2="1503.8" stroke="#dcdcdc" stroke-width="1.5"/>
<line x1="12.4" y1="1918.8" x2="962" y2="1918.8" stroke="#dcdcdc" stroke-width="1.5"/>
<line x1="27.0" y1="1859.8999999999999" x2="974.4" y2="1859.8999999999999" stroke="#dcdcdc" stroke-width="1.5"/>
<line x1="41.4" y1="1800.5" x2="986.5" y2="1800.5" stroke="#dcdcdc" stroke-width="1.5"/>
<line x1="56.0" y1="1741.6" x2="999.5" y2="1741.6" stroke="#dcdcdc" stroke-width="1.5"/>
<line x1="70.8" y1="1682.3999999999999" x2="1012.7" y2="1682.3999999999999" stroke="#dcdcdc" stroke-width="1.5"/>
<line x1="85.0" y1="1622.8999999999999" x2="1025" y2="1622.8999999999999" stroke="#dcdcdc" stroke-width="1.5"/>
<line x1="99.5" y1="1563.3999999999999" x2="1037" y2="1563.3999999999999" stroke="#dcdcdc" stroke-width="1.5"/>
<path d="M98.5,1557.8L149.6,1557.8L150.6,1530.2L151.2,1530.2L152.2,1557.8L173.1,1557.8L174.1,1540.3L174.7,1540.3L175.7,1557.8L177.7,1557.8L178.7,1532.8L179.3,1532.8L180.3,1557.8L199.4,1557.8L200.4,1524.0L201.0,1524.0L202.0,1557.8L203.7,1557.8L204.7,1533.2L205.3,1533.2L206.3,1557.8L214.4,1557.8L215.4,1555.8L216.0,1555.8L217.0,1557.8L219.0,1557.8L220.0,1555.8L220.6,1555.8L221.6,1557.8L223.6,1557.8L224.6,1555.8L225.2,1555.8L226.2,1557.8L909.6,1557.8L910.8,1551.8L911.5,1479.0L912.1,1479.0L912.8,1551.8L914.0,1557.8L933.4,1557.8L934.4,1552.8L935.0,1552.8L936.0,1557.8L942.0,1557.8L943.0,1553.8L943.6,1553.8L944.6,1557.8L954.9,1557.8L955.9,1556.3L956.5,1556.3L957.5,1557.8L967.1,1557.8L968.1,1550.8L968.7,1550.8L969.7,1557.8L1038,1557.8" fill="none" stroke="#b44c9c" stroke-width="1.2" stroke-linejoin="round"/>
<path d="M84.0,1617.3L135.5,1617.3L136.5,1588.3L137.1,1588.3L138.1,1617.3L158.7,1617.3L159.7,1598.3L160.3,1598.3L161.3,1617.3L163.0,1617.3L164.0,1590.6L164.6,1590.6L165.6,1617.3L184.7,1617.3L185.7,1585.7L186.3,1585.7L187.3,1617.3L189.0,1617.3L190.0,1594.3L190.6,1594.3L191.6,1617.3L201.3,1617.3L202.3,1615.3L202.9,1615.3L203.9,1617.3L205.3,1617.3L206.3,1615.3L206.9,1615.3L207.9,1617.3L209.2,1617.3L210.2,1615.3L210.8,1615.3L211.8,1617.3L894.9,1617.3L896.1,1611.3L896.8,1479.0L897.4,1479.0L898.1,1611.3L899.3,1617.3L918.7,1617.3L919.7,1613.3L920.3,1613.3L921.3,1617.3L927.3,1617.3L928.3,1614.3L928.9,1614.3L929.9,1617.3L940.2,1617.3L941.2,1615.8L941.8,1615.8L942.8,1617.3L952.4,1617.3L953.4,1610.3L954.0,1610.3L955.0,1617.3L1026,1617.3" fill="none" stroke="#5a3e98" stroke-width="1.2" stroke-linejoin="round"/>
<path d="M69.8,1676.8L121.1,1676.8L122.1,1648.8L122.7,1648.8L123.7,1676.8L144.7,1676.8L145.7,1657.8L146.3,1657.8L147.3,1676.8L148.7,1676.8L149.7,1651.0L150.3,1651.0L151.3,1676.8L170.7,1676.8L171.7,1644.8L172.3,1644.8L173.3,1676.8L175.0,1676.8L176.0,1653.2L176.6,1653.2L177.6,1676.8L186.9,1676.8L187.9,1673.8L188.5,1673.8L189.5,1676.8L190.9,1676.8L191.9,1673.8L192.5,1673.8L193.5,1676.8L195.2,1676.8L196.2,1673.8L196.8,1673.8L197.8,1676.8L332.2,1676.8L333.2,1673.8L333.8,1673.8L334.8,1676.8L336.2,1676.8L337.2,1673.8L337.8,1673.8L338.8,1676.8L880.5,1676.8L881.7,1670.8L882.4,1493.8L883.0,1493.8L883.7,1670.8L884.9,1676.8L903.7,1676.8L904.7,1671.8L905.3,1671.8L906.3,1676.8L912.7,1676.8L913.7,1672.8L914.3,1672.8L915.3,1676.8L925.7,1676.8L926.7,1674.8L927.3,1674.8L928.3,1676.8L938.0,1676.8L939.0,1664.8L939.6,1664.8L940.6,1676.8L1013.7,1676.8" fill="none" stroke="#3a6ea6" stroke-width="1.2" stroke-linejoin="round"/>
<path d="M55.0,1736.0L106.4,1736.0L107.4,1709.0L108.0,1709.0L109.0,1736.0L129.7,1736.0L130.7,1720.0L131.3,1720.0L132.3,1736.0L134.0,1736.0L135.0,1712.0L135.6,1712.0L136.6,1736.0L155.7,1736.0L156.7,1704.0L157.3,1704.0L158.3,1736.0L160.3,1736.0L161.3,1712.0L161.9,1712.0L162.9,1736.0L171.6,1736.0L172.6,1733.0L173.2,1733.0L174.2,1736.0L176.2,1736.0L177.2,1733.0L177.8,1733.0L178.8,1736.0L180.8,1736.0L181.8,1733.0L182.4,1733.0L183.4,1736.0L317.9,1736.0L318.9,1732.5L319.5,1732.5L320.5,1736.0L322.1,1736.0L323.1,1732.5L323.7,1732.5L324.7,1736.0L865.8,1736.0L867.0,1730.0L867.7,1555.0L868.3,1555.0L869.0,1730.0L870.2,1736.0L889.7,1736.0L890.7,1730.0L891.3,1730.0L892.3,1736.0L898.2,1736.0L899.2,1732.0L899.8,1732.0L900.8,1736.0L911.4,1736.0L912.4,1734.0L913.0,1734.0L914.0,1736.0L923.7,1736.0L924.7,1717.0L925.3,1717.0L926.3,1736.0L1000.5,1736.0" fill="none" stroke="#4ea888" stroke-width="1.2" stroke-linejoin="round"/>
<path d="M40.4,1794.9L92.0,1794.9L93.0,1768.9L93.6,1768.9L94.6,1794.9L115.0,1794.9L116.0,1777.1L116.6,1777.1L117.6,1794.9L119.6,1794.9L120.6,1770.9L121.2,1770.9L122.2,1794.9L141.0,1794.9L142.0,1764.3L142.6,1764.3L143.6,1794.9L145.6,1794.9L146.6,1772.9L147.2,1772.9L148.2,1794.9L156.9,1794.9L157.9,1790.9L158.5,1790.9L159.5,1794.9L161.5,1794.9L162.5,1790.9L163.1,1790.9L164.1,1794.9L165.5,1794.9L166.5,1790.9L167.1,1790.9L168.1,1794.9L303.2,1794.9L304.2,1789.9L304.8,1789.9L305.8,1794.9L307.2,1794.9L308.2,1789.9L308.8,1789.9L309.8,1794.9L851.6,1794.9L852.8,1788.9L853.5,1621.9L854.1,1621.9L854.8,1788.9L856.0,1794.9L874.7,1794.9L875.7,1789.9L876.3,1789.9L877.3,1794.9L883.7,1794.9L884.7,1790.9L885.3,1790.9L886.3,1794.9L897.1,1794.9L898.1,1792.9L898.7,1792.9L899.7,1794.9L909.2,1794.9L910.2,1765.9L910.8,1765.9L911.8,1794.9L987.5,1794.9" fill="none" stroke="#64a23c" stroke-width="1.2" stroke-linejoin="round"/>
<path d="M26.0,1854.3L77.6,1854.3L78.6,1825.8L79.2,1825.8L80.2,1854.3L100.6,1854.3L101.6,1837.5L102.2,1837.5L103.2,1854.3L105.2,1854.3L106.2,1831.4L106.8,1831.4L107.8,1854.3L126.6,1854.3L127.6,1818.5L128.2,1818.5L129.2,1854.3L131.2,1854.3L132.2,1828.3L132.8,1828.3L133.8,1854.3L142.5,1854.3L143.5,1845.3L144.1,1845.3L145.1,1854.3L147.1,1854.3L148.1,1847.3L148.7,1847.3L149.7,1854.3L151.7,1854.3L152.7,1848.3L153.3,1848.3L154.3,1854.3L288.8,1854.3L289.8,1844.3L290.4,1844.3L291.4,1854.3L293.1,1854.3L294.1,1844.3L294.7,1844.3L295.7,1854.3L836.5,1854.3L837.7,1848.3L838.4,1659.3L839.0,1659.3L839.7,1848.3L840.9,1854.3L860.7,1854.3L861.7,1846.8L862.3,1846.8L863.3,1854.3L869.2,1854.3L870.2,1848.3L870.8,1848.3L871.8,1854.3L882.0,1854.3L883.0,1852.3L883.6,1852.3L884.6,1854.3L893.5,1854.3L894.7,1848.3L895.4,1798.6L896.0,1798.6L896.7,1848.3L897.9,1854.3L975.4,1854.3" fill="none" stroke="#c4a63a" stroke-width="1.2" stroke-linejoin="round"/>
<path d="M11.4,1913.2L63.0,1913.2L64.0,1888.8L64.6,1888.8L65.6,1913.2L86.5,1913.2L87.5,1898.2L88.1,1898.2L89.1,1913.2L91.1,1913.2L92.1,1892.2L92.7,1892.2L93.7,1913.2L112.5,1913.2L113.5,1880.5L114.1,1880.5L115.1,1913.2L117.1,1913.2L118.1,1889.7L118.7,1889.7L119.7,1913.2L128.1,1913.2L129.1,1898.2L129.7,1898.2L130.7,1913.2L132.4,1913.2L133.4,1900.4L134.0,1900.4L135.0,1913.2L137.0,1913.2L138.0,1900.4L138.6,1900.4L139.6,1913.2L273.5,1913.2L274.5,1896.8L275.1,1896.8L276.1,1913.2L278.1,1913.2L279.1,1896.8L279.7,1896.8L280.7,1913.2L822.4,1913.2L823.6,1907.2L824.3,1729.2L824.9,1729.2L825.6,1907.2L826.8,1913.2L845.9,1913.2L846.9,1905.2L847.5,1905.2L848.5,1913.2L854.4,1913.2L855.4,1905.2L856.0,1905.2L857.0,1913.2L867.6,1913.2L868.6,1910.2L869.2,1910.2L870.2,1913.2L878.8,1913.2L880.0,1907.2L880.7,1816.2L881.3,1816.2L882.0,1907.2L883.2,1913.2L963,1913.2" fill="none" stroke="#be4444" stroke-width="1.2" stroke-linejoin="round"/>
<text x="978.8" y="1919.0" font-size="21.5" fill="#c00000" font-family="'Liberation Sans', Arial, sans-serif" textLength="43.0" lengthAdjust="spacingAndGlyphs" >t = 0</text>
<text x="991.3" y="1860.1" font-size="21.5" fill="#d4a017" font-family="'Liberation Sans', Arial, sans-serif" textLength="42.5" lengthAdjust="spacingAndGlyphs" >t = 5</text>
<text x="1005.5" y="1800.0" font-size="21.5" fill="#4e8a2a" font-family="'Liberation Sans', Arial, sans-serif" textLength="56.7" lengthAdjust="spacingAndGlyphs" >t = 10</text>
<text x="1016.4" y="1741.1" font-size="21.5" fill="#4e8a1a" font-family="'Liberation Sans', Arial, sans-serif" textLength="56.6" lengthAdjust="spacingAndGlyphs" >t = 15</text>
<text x="1027.3" y="1682.2" font-size="21.5" fill="#1f4e79" font-family="'Liberation Sans', Arial, sans-serif" textLength="56.7" lengthAdjust="spacingAndGlyphs" >t = 20</text>
<text x="1042.6" y="1622.2" font-size="21.5" fill="#1f4e79" font-family="'Liberation Sans', Arial, sans-serif" textLength="56.3" lengthAdjust="spacingAndGlyphs" >t = 25</text>
<text x="1051.3" y="1565.4" font-size="21.5" fill="#7030a0" font-family="'Liberation Sans', Arial, sans-serif" textLength="56.3" lengthAdjust="spacingAndGlyphs" >t = 30</text>
<path d="M11.6,1952H985.9M12.1,1952v7M32.5,1952v4M52.9,1952v7M73.2,1952v4M93.6,1952v7M114.0,1952v4M134.4,1952v7M154.8,1952v4M175.1,1952v7M195.5,1952v4M215.9,1952v7M236.3,1952v4M256.7,1952v7M277.0,1952v4M297.4,1952v7M317.8,1952v4M338.2,1952v7M358.6,1952v4M378.9,1952v7M399.3,1952v4M419.7,1952v7M440.1,1952v4M460.5,1952v7M480.8,1952v4M501.2,1952v7M521.6,1952v4M542.0,1952v7M562.4,1952v4M582.7,1952v7M603.1,1952v4M623.5,1952v7M643.9,1952v4M664.3,1952v7M684.6,1952v4M705.0,1952v7M725.4,1952v4M745.8,1952v7M766.2,1952v4M786.5,1952v7M806.9,1952v4M827.3,1952v7M847.7,1952v4M868.1,1952v7M888.4,1952v4M908.8,1952v7M929.2,1952v4M949.6,1952v7M970.0,1952v4" stroke="#777" stroke-width="1.4" fill="none"/>
<text x="55.4" y="1985.0" font-size="18.5" fill="#333" font-family="'Liberation Sans', Arial, sans-serif" text-anchor="middle" textLength="22.0" lengthAdjust="spacingAndGlyphs" >7.8</text>
<text x="96.1" y="1985.0" font-size="18.5" fill="#333" font-family="'Liberation Sans', Arial, sans-serif" text-anchor="middle" textLength="22.0" lengthAdjust="spacingAndGlyphs" >7.6</text>
<text x="136.9" y="1985.0" font-size="18.5" fill="#333" font-family="'Liberation Sans', Arial, sans-serif" text-anchor="middle" textLength="22.0" lengthAdjust="spacingAndGlyphs" >7.4</text>
<text x="177.6" y="1985.0" font-size="18.5" fill="#333" font-family="'Liberation Sans', Arial, sans-serif" text-anchor="middle" textLength="22.0" lengthAdjust="spacingAndGlyphs" >7.2</text>
<text x="218.4" y="1985.0" font-size="18.5" fill="#333" font-family="'Liberation Sans', Arial, sans-serif" text-anchor="middle" textLength="22.0" lengthAdjust="spacingAndGlyphs" >7.0</text>
<text x="259.2" y="1985.0" font-size="18.5" fill="#333" font-family="'Liberation Sans', Arial, sans-serif" text-anchor="middle" textLength="22.0" lengthAdjust="spacingAndGlyphs" >6.8</text>
<text x="340.7" y="1985.0" font-size="18.5" fill="#333" font-family="'Liberation Sans', Arial, sans-serif" text-anchor="middle" textLength="22.0" lengthAdjust="spacingAndGlyphs" >6.4</text>
<text x="422.2" y="1985.0" font-size="18.5" fill="#333" font-family="'Liberation Sans', Arial, sans-serif" text-anchor="middle" textLength="22.0" lengthAdjust="spacingAndGlyphs" >6.0</text>
<text x="503.7" y="1985.0" font-size="18.5" fill="#333" font-family="'Liberation Sans', Arial, sans-serif" text-anchor="middle" textLength="22.0" lengthAdjust="spacingAndGlyphs" >5.6</text>
<text x="585.2" y="1985.0" font-size="18.5" fill="#333" font-family="'Liberation Sans', Arial, sans-serif" text-anchor="middle" textLength="22.0" lengthAdjust="spacingAndGlyphs" >5.2</text>
<text x="666.8" y="1985.0" font-size="18.5" fill="#333" font-family="'Liberation Sans', Arial, sans-serif" text-anchor="middle" textLength="22.0" lengthAdjust="spacingAndGlyphs" >4.8</text>
<text x="748.3" y="1985.0" font-size="18.5" fill="#333" font-family="'Liberation Sans', Arial, sans-serif" text-anchor="middle" textLength="22.0" lengthAdjust="spacingAndGlyphs" >4.4</text>
<text x="829.8" y="1985.0" font-size="18.5" fill="#333" font-family="'Liberation Sans', Arial, sans-serif" text-anchor="middle" textLength="22.0" lengthAdjust="spacingAndGlyphs" >4.0</text>
<text x="911.3" y="1985.0" font-size="18.5" fill="#333" font-family="'Liberation Sans', Arial, sans-serif" text-anchor="middle" textLength="22.0" lengthAdjust="spacingAndGlyphs" >3.6</text>
<text x="508.0" y="2009.0" font-size="20.6" fill="#111" font-family="'Liberation Sans', Arial, sans-serif" text-anchor="middle" textLength="46.0" lengthAdjust="spacingAndGlyphs" >ppm</text>
<g stroke="#111" stroke-width="5" fill="none" stroke-linecap="butt">
<path d="M970.6,1540.4 L988,1546"/>
<path d="M997,1560 L913,1930" stroke-dasharray="15 13"/>
<path d="M911,1931.5 L886,1929.5" stroke-dasharray="10 6"/>
<path d="M953,1742.5 Q967,1741 981,1747"/>
</g>
<text x="1106.0" y="1762.8" font-size="24" fill="#111" font-family="'Liberation Sans', Arial, sans-serif" text-anchor="middle" font-style="italic" textLength="111.6" lengthAdjust="spacingAndGlyphs" transform="rotate(-90 1106.0 1762.8)" >Time (min)</text>
<g stroke="#111" stroke-width="4.4" fill="none">
<line x1="1157.3" y1="1494.6" x2="1831" y2="1494.6" stroke-dasharray="19.4 15.6"/>
<line x1="1157.3" y1="1508.4" x2="1157.3" y2="1980" stroke-dasharray="19.2 15.6"/>
<line x1="1583.7" y1="1979.3" x2="1830" y2="1979.3" stroke-dasharray="19 16.2"/>
<line x1="1158" y1="1979.3" x2="1583.7" y2="1979.3" stroke-dasharray="0 8.7 19 7.3"/>
<line x1="1828.2" y1="1494" x2="1828.2" y2="1981.2" stroke-dasharray="19 15.8"/>
</g>
<polyline points="1175.9,1845.0 1381.7,1840.1 1396.8,1835.6 1408.1,1833.7 1419.5,1835.6 1430.8,1830.6 1440.2,1826.9 1445.9,1828.8 1457.2,1838.2 1468.5,1843.9 1689.5,1845.0" fill="none" stroke="#c040c0" stroke-width="1.3" stroke-linejoin="round"/>
<polyline points="1175.9,1845.0 1381.7,1838.2 1393.0,1832.5 1404.4,1830.6 1419.5,1834.4 1430.8,1826.9 1442.1,1819.3 1447.8,1820.5 1457.2,1832.5 1468.5,1842.0 1689.5,1845.0" fill="none" stroke="#6a40a8" stroke-width="1.3" stroke-linejoin="round"/>
<polyline points="1175.9,1845.0 1374.1,1838.2 1389.2,1828.8 1400.6,1823.1 1410.0,1823.1 1419.5,1825.7 1430.8,1813.7 1440.2,1806.1 1445.9,1807.2 1455.3,1823.1 1468.5,1840.1 1689.5,1845.0" fill="none" stroke="#4262b0" stroke-width="1.3" stroke-linejoin="round"/>
<polyline points="1175.9,1845.0 1366.6,1836.3 1389.2,1826.9 1400.6,1811.8 1410.0,1808.0 1419.5,1809.9 1428.9,1798.5 1438.3,1785.3 1444.0,1787.2 1453.4,1809.9 1464.8,1834.4 1479.9,1842.0 1689.5,1845.0" fill="none" stroke="#40a0a0" stroke-width="1.3" stroke-linejoin="round"/>
<polyline points="1175.9,1845.0 1328.8,1840.1 1366.6,1834.4 1385.5,1821.2 1396.8,1802.3 1406.2,1789.1 1411.9,1788.4 1419.5,1792.1 1428.9,1779.7 1438.3,1755.1 1444.0,1757.0 1453.4,1791.0 1464.8,1825.0 1479.9,1838.2 1517.6,1843.1 1689.5,1845.0" fill="none" stroke="#70a840" stroke-width="1.3" stroke-linejoin="round"/>
<polyline points="1175.9,1845.0 1291.1,1843.9 1328.8,1839.3 1359.0,1835.6 1381.7,1826.9 1396.8,1806.1 1411.9,1745.7 1421.3,1704.1 1428.9,1675.8 1436.5,1676.9 1442.1,1704.1 1453.4,1764.6 1464.8,1802.3 1476.1,1826.9 1498.8,1840.1 1536.5,1843.9 1689.5,1845.0" fill="none" stroke="#c6c040" stroke-width="1.3" stroke-linejoin="round"/>
<polyline points="1175.9,1845.0 1291.1,1843.9 1328.8,1838.2 1359.0,1833.3 1381.7,1825.0 1396.8,1802.3 1411.9,1696.6 1421.3,1621.1 1428.9,1550.1 1437.2,1566.3 1442.1,1621.1 1449.7,1696.6 1461.0,1772.1 1468.5,1798.5 1479.9,1821.2 1498.8,1834.4 1517.6,1837.1 1547.9,1842.0 1593.2,1843.9 1689.5,1845.0" fill="none" stroke="#c0504d" stroke-width="1.3" stroke-linejoin="round"/>
<path d="M1175.9,1894.3H1689M1697.2,1514.6V1885.9" stroke="#777" stroke-width="1.5" fill="none"/>
<path d="M1208.0,1894.3v5M1252.1,1894.3v10M1296.1,1894.3v5M1340.2,1894.3v10M1384.3,1894.3v5M1428.3,1894.3v10M1472.4,1894.3v5M1516.5,1894.3v10M1560.6,1894.3v5M1604.6,1894.3v10M1648.7,1894.3v5M1697.2,1845.0h9M1697.2,1787.1h5M1697.2,1729.2h9M1697.2,1671.4h5M1697.2,1613.5h9M1697.2,1555.6h5" stroke="#777" stroke-width="1.4" fill="none"/>
<text x="1252.2" y="1934.5" font-size="21" fill="#222" font-family="'Liberation Sans', Arial, sans-serif" text-anchor="middle" textLength="54.8" lengthAdjust="spacingAndGlyphs" >3.780</text>
<text x="1340.2" y="1934.5" font-size="21" fill="#222" font-family="'Liberation Sans', Arial, sans-serif" text-anchor="middle" textLength="54.8" lengthAdjust="spacingAndGlyphs" >3.775</text>
<text x="1428.5" y="1934.5" font-size="21" fill="#222" font-family="'Liberation Sans', Arial, sans-serif" text-anchor="middle" textLength="54.8" lengthAdjust="spacingAndGlyphs" >3.770</text>
<text x="1516.5" y="1934.5" font-size="21" fill="#222" font-family="'Liberation Sans', Arial, sans-serif" text-anchor="middle" textLength="54.8" lengthAdjust="spacingAndGlyphs" >3.765</text>
<text x="1605.2" y="1934.5" font-size="21" fill="#222" font-family="'Liberation Sans', Arial, sans-serif" text-anchor="middle" textLength="54.8" lengthAdjust="spacingAndGlyphs" >3.760</text>
<text x="1436.4" y="1961.0" font-size="21" fill="#222" font-family="'Liberation Sans', Arial, sans-serif" text-anchor="middle" textLength="42.3" lengthAdjust="spacingAndGlyphs" >ppm</text>
<text x="1713.0" y="1621.0" font-size="21" fill="#222" font-family="'Liberation Sans', Arial, sans-serif" textLength="35.0" lengthAdjust="spacingAndGlyphs" >100</text>
<text x="1713.0" y="1736.8" font-size="21" fill="#222" font-family="'Liberation Sans', Arial, sans-serif" textLength="24.0" lengthAdjust="spacingAndGlyphs" >50</text>
<text x="1713.0" y="1852.5" font-size="21" fill="#222" font-family="'Liberation Sans', Arial, sans-serif" textLength="11.5" lengthAdjust="spacingAndGlyphs" >0</text>
<text x="1786.9" y="1694.7" font-size="21.5" fill="#222" font-family="'Liberation Sans', Arial, sans-serif" text-anchor="middle" textLength="87.6" lengthAdjust="spacingAndGlyphs" transform="rotate(-90 1786.9 1694.7)" >Intensity</text>
<line x1="1502.5" y1="1558.7" x2="1502.5" y2="1808" stroke="#000" stroke-width="2"/>
<polygon points="1496.5,1806 1508.5,1806 1502.5,1819.5" fill="#000"/>
<text x="1519.5" y="1568.5" font-size="23" fill="#111" font-family="'Liberation Sans', Arial, sans-serif" textLength="43.4" lengthAdjust="spacingAndGlyphs" >t = 0</text>
<text x="1521.4" y="1806.0" font-size="23" fill="#111" font-family="'Liberation Sans', Arial, sans-serif" textLength="58.6" lengthAdjust="spacingAndGlyphs" >t = 30</text>
</svg></body></html>
